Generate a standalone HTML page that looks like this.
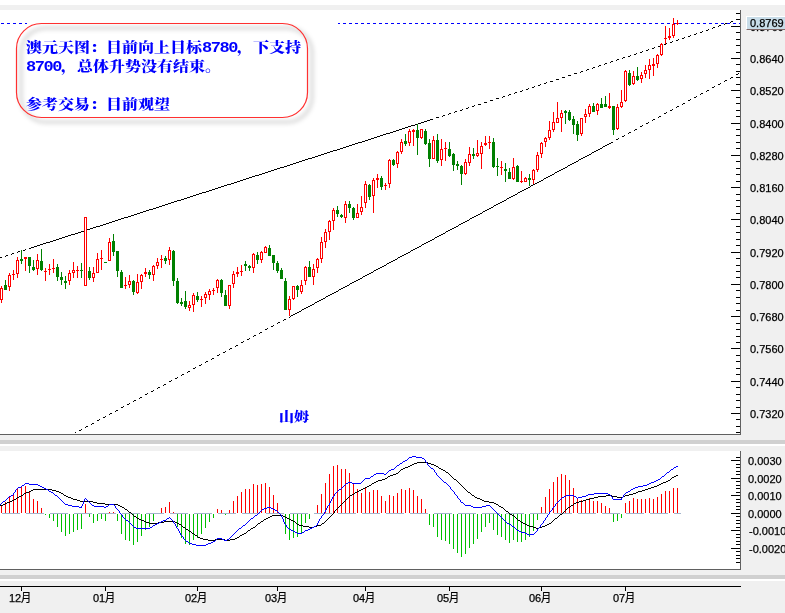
<!DOCTYPE html>
<html lang="zh"><head><meta charset="utf-8"><title>澳元天图</title>
<style>
html,body{margin:0;padding:0;background:#fff;}
body{width:785px;height:613px;overflow:hidden;position:relative;}
svg{position:absolute;left:0;top:0;display:block;}
div{position:absolute;white-space:nowrap;}
.ax{font-family:"Liberation Sans","Noto Sans CJK SC",sans-serif;font-size:11px;line-height:14px;height:14px;color:#000;}
.ax{-webkit-text-stroke:0.25px #000;}
.tm .cj{font-size:12px;display:inline-block;transform:scaleX(0.85);transform-origin:0 50%;}
.pl{left:746px;top:16px;width:39px;height:13px;background:#c8dce8;border-left:1px solid #fff;border-top:1px solid #fff;border-bottom:1px solid #806868;box-sizing:border-box;height:14px;}
.note{font-family:"Liberation Serif","Noto Serif CJK SC",serif;font-weight:900;font-size:16px;transform:scaleY(0.85);transform-origin:0 50%;line-height:19px;height:19px;color:#0000ff;}
.sm{font-size:15px !important;}
.note .dg{font-family:"Liberation Mono","Liberation Serif",monospace;font-size:17px;letter-spacing:-1.45px;font-weight:bold;}
</style></head><body>
<svg width="785" height="613" viewBox="0 0 785 613" shape-rendering="crispEdges"><rect x="0" y="0" width="785" height="613" fill="#ffffff"/>
<rect x="0" y="5" width="785" height="5" fill="#f0f0f0"/>
<rect x="741" y="10" width="44" height="603" fill="#f0f0f0"/>
<rect x="0" y="435" width="785" height="5" fill="#f0f0f0"/>
<rect x="0" y="440" width="785" height="4" fill="#d0d0d0"/>
<rect x="0" y="444" width="785" height="2" fill="#ffffff"/>
<rect x="0" y="446" width="785" height="5" fill="#f0f0f0"/>
<rect x="0" y="570" width="785" height="5" fill="#f0f0f0"/>
<rect x="0" y="575" width="785" height="4" fill="#d0d0d0"/>
<rect x="0" y="579" width="785" height="2" fill="#ffffff"/>
<rect x="0" y="581" width="785" height="32" fill="#f0f0f0"/>
<rect x="740" y="10" width="1" height="425" fill="#606060"/>
<rect x="0" y="434" width="741" height="1" fill="#606060"/>
<rect x="740" y="451" width="1" height="119" fill="#606060"/>
<rect x="0" y="569" width="741" height="1" fill="#606060"/>
<rect x="0" y="586" width="741" height="1" fill="#000"/>
<rect x="736" y="13" width="4" height="1" fill="#000"/>
<rect x="736" y="19" width="4" height="1" fill="#000"/>
<rect x="731" y="26" width="9" height="1" fill="#000"/>
<rect x="736" y="32" width="4" height="1" fill="#000"/>
<rect x="736" y="39" width="4" height="1" fill="#000"/>
<rect x="736" y="45" width="4" height="1" fill="#000"/>
<rect x="736" y="52" width="4" height="1" fill="#000"/>
<rect x="731" y="58" width="9" height="1" fill="#000"/>
<rect x="736" y="64" width="4" height="1" fill="#000"/>
<rect x="736" y="71" width="4" height="1" fill="#000"/>
<rect x="736" y="77" width="4" height="1" fill="#000"/>
<rect x="736" y="84" width="4" height="1" fill="#000"/>
<rect x="731" y="90" width="9" height="1" fill="#000"/>
<rect x="736" y="97" width="4" height="1" fill="#000"/>
<rect x="736" y="103" width="4" height="1" fill="#000"/>
<rect x="736" y="110" width="4" height="1" fill="#000"/>
<rect x="736" y="116" width="4" height="1" fill="#000"/>
<rect x="731" y="123" width="9" height="1" fill="#000"/>
<rect x="736" y="129" width="4" height="1" fill="#000"/>
<rect x="736" y="135" width="4" height="1" fill="#000"/>
<rect x="736" y="142" width="4" height="1" fill="#000"/>
<rect x="736" y="148" width="4" height="1" fill="#000"/>
<rect x="731" y="155" width="9" height="1" fill="#000"/>
<rect x="736" y="161" width="4" height="1" fill="#000"/>
<rect x="736" y="168" width="4" height="1" fill="#000"/>
<rect x="736" y="174" width="4" height="1" fill="#000"/>
<rect x="736" y="181" width="4" height="1" fill="#000"/>
<rect x="731" y="187" width="9" height="1" fill="#000"/>
<rect x="736" y="194" width="4" height="1" fill="#000"/>
<rect x="736" y="200" width="4" height="1" fill="#000"/>
<rect x="736" y="206" width="4" height="1" fill="#000"/>
<rect x="736" y="213" width="4" height="1" fill="#000"/>
<rect x="731" y="219" width="9" height="1" fill="#000"/>
<rect x="736" y="226" width="4" height="1" fill="#000"/>
<rect x="736" y="232" width="4" height="1" fill="#000"/>
<rect x="736" y="239" width="4" height="1" fill="#000"/>
<rect x="736" y="245" width="4" height="1" fill="#000"/>
<rect x="731" y="252" width="9" height="1" fill="#000"/>
<rect x="736" y="258" width="4" height="1" fill="#000"/>
<rect x="736" y="265" width="4" height="1" fill="#000"/>
<rect x="736" y="271" width="4" height="1" fill="#000"/>
<rect x="736" y="277" width="4" height="1" fill="#000"/>
<rect x="731" y="284" width="9" height="1" fill="#000"/>
<rect x="736" y="290" width="4" height="1" fill="#000"/>
<rect x="736" y="297" width="4" height="1" fill="#000"/>
<rect x="736" y="303" width="4" height="1" fill="#000"/>
<rect x="736" y="310" width="4" height="1" fill="#000"/>
<rect x="731" y="316" width="9" height="1" fill="#000"/>
<rect x="736" y="323" width="4" height="1" fill="#000"/>
<rect x="736" y="329" width="4" height="1" fill="#000"/>
<rect x="736" y="336" width="4" height="1" fill="#000"/>
<rect x="736" y="342" width="4" height="1" fill="#000"/>
<rect x="731" y="348" width="9" height="1" fill="#000"/>
<rect x="736" y="355" width="4" height="1" fill="#000"/>
<rect x="736" y="361" width="4" height="1" fill="#000"/>
<rect x="736" y="368" width="4" height="1" fill="#000"/>
<rect x="736" y="374" width="4" height="1" fill="#000"/>
<rect x="731" y="381" width="9" height="1" fill="#000"/>
<rect x="736" y="387" width="4" height="1" fill="#000"/>
<rect x="736" y="394" width="4" height="1" fill="#000"/>
<rect x="736" y="400" width="4" height="1" fill="#000"/>
<rect x="736" y="407" width="4" height="1" fill="#000"/>
<rect x="731" y="413" width="9" height="1" fill="#000"/>
<rect x="736" y="419" width="4" height="1" fill="#000"/>
<rect x="736" y="426" width="4" height="1" fill="#000"/>
<rect x="736" y="432" width="4" height="1" fill="#000"/>
<rect x="736" y="457" width="4" height="1" fill="#000"/>
<rect x="731" y="460" width="9" height="1" fill="#000"/>
<rect x="736" y="464" width="4" height="1" fill="#000"/>
<rect x="736" y="467" width="4" height="1" fill="#000"/>
<rect x="736" y="471" width="4" height="1" fill="#000"/>
<rect x="736" y="474" width="4" height="1" fill="#000"/>
<rect x="731" y="478" width="9" height="1" fill="#000"/>
<rect x="736" y="481" width="4" height="1" fill="#000"/>
<rect x="736" y="485" width="4" height="1" fill="#000"/>
<rect x="736" y="488" width="4" height="1" fill="#000"/>
<rect x="736" y="492" width="4" height="1" fill="#000"/>
<rect x="731" y="495" width="9" height="1" fill="#000"/>
<rect x="736" y="499" width="4" height="1" fill="#000"/>
<rect x="736" y="502" width="4" height="1" fill="#000"/>
<rect x="736" y="506" width="4" height="1" fill="#000"/>
<rect x="736" y="509" width="4" height="1" fill="#000"/>
<rect x="731" y="513" width="9" height="1" fill="#000"/>
<rect x="736" y="516" width="4" height="1" fill="#000"/>
<rect x="736" y="520" width="4" height="1" fill="#000"/>
<rect x="736" y="523" width="4" height="1" fill="#000"/>
<rect x="736" y="527" width="4" height="1" fill="#000"/>
<rect x="731" y="530" width="9" height="1" fill="#000"/>
<rect x="736" y="534" width="4" height="1" fill="#000"/>
<rect x="736" y="537" width="4" height="1" fill="#000"/>
<rect x="736" y="541" width="4" height="1" fill="#000"/>
<rect x="736" y="544" width="4" height="1" fill="#000"/>
<rect x="731" y="548" width="9" height="1" fill="#000"/>
<rect x="736" y="551" width="4" height="1" fill="#000"/>
<rect x="736" y="555" width="4" height="1" fill="#000"/>
<rect x="736" y="558" width="4" height="1" fill="#000"/>
<rect x="736" y="562" width="4" height="1" fill="#000"/>
<rect x="21" y="586" width="1" height="5" fill="#000"/>
<rect x="105" y="586" width="1" height="5" fill="#000"/>
<rect x="197" y="586" width="1" height="5" fill="#000"/>
<rect x="277" y="586" width="1" height="5" fill="#000"/>
<rect x="365" y="586" width="1" height="5" fill="#000"/>
<rect x="449" y="586" width="1" height="5" fill="#000"/>
<rect x="541" y="586" width="1" height="5" fill="#000"/>
<rect x="625" y="586" width="1" height="5" fill="#000"/>
<rect x="1" y="23" width="3" height="1" fill="#0000ff"/>
<rect x="7" y="23" width="3" height="1" fill="#0000ff"/>
<rect x="13" y="23" width="3" height="1" fill="#0000ff"/>
<rect x="19" y="23" width="3" height="1" fill="#0000ff"/>
<rect x="25" y="23" width="2" height="1" fill="#0000ff"/>
<rect x="338" y="23" width="2" height="1" fill="#0000ff"/>
<rect x="343" y="23" width="3" height="1" fill="#0000ff"/>
<rect x="349" y="23" width="3" height="1" fill="#0000ff"/>
<rect x="355" y="23" width="3" height="1" fill="#0000ff"/>
<rect x="361" y="23" width="3" height="1" fill="#0000ff"/>
<rect x="367" y="23" width="3" height="1" fill="#0000ff"/>
<rect x="373" y="23" width="3" height="1" fill="#0000ff"/>
<rect x="379" y="23" width="3" height="1" fill="#0000ff"/>
<rect x="385" y="23" width="3" height="1" fill="#0000ff"/>
<rect x="391" y="23" width="3" height="1" fill="#0000ff"/>
<rect x="397" y="23" width="3" height="1" fill="#0000ff"/>
<rect x="403" y="23" width="3" height="1" fill="#0000ff"/>
<rect x="409" y="23" width="3" height="1" fill="#0000ff"/>
<rect x="415" y="23" width="3" height="1" fill="#0000ff"/>
<rect x="421" y="23" width="3" height="1" fill="#0000ff"/>
<rect x="427" y="23" width="3" height="1" fill="#0000ff"/>
<rect x="433" y="23" width="3" height="1" fill="#0000ff"/>
<rect x="439" y="23" width="3" height="1" fill="#0000ff"/>
<rect x="445" y="23" width="3" height="1" fill="#0000ff"/>
<rect x="451" y="23" width="3" height="1" fill="#0000ff"/>
<rect x="457" y="23" width="3" height="1" fill="#0000ff"/>
<rect x="463" y="23" width="3" height="1" fill="#0000ff"/>
<rect x="469" y="23" width="3" height="1" fill="#0000ff"/>
<rect x="475" y="23" width="3" height="1" fill="#0000ff"/>
<rect x="481" y="23" width="3" height="1" fill="#0000ff"/>
<rect x="487" y="23" width="3" height="1" fill="#0000ff"/>
<rect x="493" y="23" width="3" height="1" fill="#0000ff"/>
<rect x="499" y="23" width="3" height="1" fill="#0000ff"/>
<rect x="505" y="23" width="3" height="1" fill="#0000ff"/>
<rect x="511" y="23" width="3" height="1" fill="#0000ff"/>
<rect x="517" y="23" width="3" height="1" fill="#0000ff"/>
<rect x="523" y="23" width="3" height="1" fill="#0000ff"/>
<rect x="529" y="23" width="3" height="1" fill="#0000ff"/>
<rect x="535" y="23" width="3" height="1" fill="#0000ff"/>
<rect x="541" y="23" width="3" height="1" fill="#0000ff"/>
<rect x="547" y="23" width="3" height="1" fill="#0000ff"/>
<rect x="553" y="23" width="3" height="1" fill="#0000ff"/>
<rect x="559" y="23" width="3" height="1" fill="#0000ff"/>
<rect x="565" y="23" width="3" height="1" fill="#0000ff"/>
<rect x="571" y="23" width="3" height="1" fill="#0000ff"/>
<rect x="577" y="23" width="3" height="1" fill="#0000ff"/>
<rect x="583" y="23" width="3" height="1" fill="#0000ff"/>
<rect x="589" y="23" width="3" height="1" fill="#0000ff"/>
<rect x="595" y="23" width="3" height="1" fill="#0000ff"/>
<rect x="601" y="23" width="3" height="1" fill="#0000ff"/>
<rect x="607" y="23" width="3" height="1" fill="#0000ff"/>
<rect x="613" y="23" width="3" height="1" fill="#0000ff"/>
<rect x="619" y="23" width="3" height="1" fill="#0000ff"/>
<rect x="625" y="23" width="3" height="1" fill="#0000ff"/>
<rect x="631" y="23" width="3" height="1" fill="#0000ff"/>
<rect x="637" y="23" width="3" height="1" fill="#0000ff"/>
<rect x="643" y="23" width="3" height="1" fill="#0000ff"/>
<rect x="649" y="23" width="3" height="1" fill="#0000ff"/>
<rect x="655" y="23" width="3" height="1" fill="#0000ff"/>
<rect x="661" y="23" width="3" height="1" fill="#0000ff"/>
<rect x="667" y="23" width="3" height="1" fill="#0000ff"/>
<rect x="673" y="23" width="3" height="1" fill="#0000ff"/>
<rect x="679" y="23" width="3" height="1" fill="#0000ff"/>
<rect x="685" y="23" width="3" height="1" fill="#0000ff"/>
<rect x="691" y="23" width="3" height="1" fill="#0000ff"/>
<rect x="697" y="23" width="3" height="1" fill="#0000ff"/>
<rect x="703" y="23" width="3" height="1" fill="#0000ff"/>
<rect x="709" y="23" width="3" height="1" fill="#0000ff"/>
<rect x="715" y="23" width="3" height="1" fill="#0000ff"/>
<rect x="721" y="23" width="3" height="1" fill="#0000ff"/>
<rect x="727" y="23" width="3" height="1" fill="#0000ff"/>
<rect x="733" y="23" width="3" height="1" fill="#0000ff"/>
<rect x="739" y="23" width="1" height="1" fill="#0000ff"/>
<rect x="29" y="248" width="2" height="1" fill="#000"/>
<rect x="25" y="249" width="1" height="1" fill="#000"/>
<rect x="23" y="250" width="2" height="1" fill="#000"/>
<rect x="18" y="251" width="2" height="1" fill="#000"/>
<rect x="17" y="252" width="1" height="1" fill="#000"/>
<rect x="12" y="253" width="2" height="1" fill="#000"/>
<rect x="11" y="254" width="1" height="1" fill="#000"/>
<rect x="6" y="255" width="2" height="1" fill="#000"/>
<rect x="5" y="256" width="1" height="1" fill="#000"/>
<rect x="0" y="257" width="2" height="1" fill="#000"/>
<rect x="430" y="119" width="3" height="1" fill="#000"/>
<rect x="427" y="120" width="3" height="1" fill="#000"/>
<rect x="424" y="121" width="3" height="1" fill="#000"/>
<rect x="421" y="122" width="3" height="1" fill="#000"/>
<rect x="418" y="123" width="3" height="1" fill="#000"/>
<rect x="415" y="124" width="3" height="1" fill="#000"/>
<rect x="411" y="125" width="4" height="1" fill="#000"/>
<rect x="408" y="126" width="3" height="1" fill="#000"/>
<rect x="405" y="127" width="3" height="1" fill="#000"/>
<rect x="402" y="128" width="3" height="1" fill="#000"/>
<rect x="399" y="129" width="3" height="1" fill="#000"/>
<rect x="396" y="130" width="3" height="1" fill="#000"/>
<rect x="393" y="131" width="3" height="1" fill="#000"/>
<rect x="390" y="132" width="3" height="1" fill="#000"/>
<rect x="386" y="133" width="4" height="1" fill="#000"/>
<rect x="383" y="134" width="3" height="1" fill="#000"/>
<rect x="380" y="135" width="3" height="1" fill="#000"/>
<rect x="377" y="136" width="3" height="1" fill="#000"/>
<rect x="374" y="137" width="3" height="1" fill="#000"/>
<rect x="371" y="138" width="3" height="1" fill="#000"/>
<rect x="368" y="139" width="3" height="1" fill="#000"/>
<rect x="365" y="140" width="3" height="1" fill="#000"/>
<rect x="362" y="141" width="3" height="1" fill="#000"/>
<rect x="358" y="142" width="4" height="1" fill="#000"/>
<rect x="355" y="143" width="3" height="1" fill="#000"/>
<rect x="352" y="144" width="3" height="1" fill="#000"/>
<rect x="349" y="145" width="3" height="1" fill="#000"/>
<rect x="346" y="146" width="3" height="1" fill="#000"/>
<rect x="343" y="147" width="3" height="1" fill="#000"/>
<rect x="340" y="148" width="3" height="1" fill="#000"/>
<rect x="337" y="149" width="3" height="1" fill="#000"/>
<rect x="333" y="150" width="4" height="1" fill="#000"/>
<rect x="330" y="151" width="3" height="1" fill="#000"/>
<rect x="327" y="152" width="3" height="1" fill="#000"/>
<rect x="324" y="153" width="3" height="1" fill="#000"/>
<rect x="321" y="154" width="3" height="1" fill="#000"/>
<rect x="318" y="155" width="3" height="1" fill="#000"/>
<rect x="315" y="156" width="3" height="1" fill="#000"/>
<rect x="312" y="157" width="3" height="1" fill="#000"/>
<rect x="308" y="158" width="4" height="1" fill="#000"/>
<rect x="305" y="159" width="3" height="1" fill="#000"/>
<rect x="302" y="160" width="3" height="1" fill="#000"/>
<rect x="299" y="161" width="3" height="1" fill="#000"/>
<rect x="296" y="162" width="3" height="1" fill="#000"/>
<rect x="293" y="163" width="3" height="1" fill="#000"/>
<rect x="290" y="164" width="3" height="1" fill="#000"/>
<rect x="287" y="165" width="3" height="1" fill="#000"/>
<rect x="284" y="166" width="3" height="1" fill="#000"/>
<rect x="280" y="167" width="4" height="1" fill="#000"/>
<rect x="277" y="168" width="3" height="1" fill="#000"/>
<rect x="274" y="169" width="3" height="1" fill="#000"/>
<rect x="271" y="170" width="3" height="1" fill="#000"/>
<rect x="268" y="171" width="3" height="1" fill="#000"/>
<rect x="265" y="172" width="3" height="1" fill="#000"/>
<rect x="262" y="173" width="3" height="1" fill="#000"/>
<rect x="259" y="174" width="3" height="1" fill="#000"/>
<rect x="255" y="175" width="4" height="1" fill="#000"/>
<rect x="252" y="176" width="3" height="1" fill="#000"/>
<rect x="249" y="177" width="3" height="1" fill="#000"/>
<rect x="246" y="178" width="3" height="1" fill="#000"/>
<rect x="243" y="179" width="3" height="1" fill="#000"/>
<rect x="240" y="180" width="3" height="1" fill="#000"/>
<rect x="237" y="181" width="3" height="1" fill="#000"/>
<rect x="234" y="182" width="3" height="1" fill="#000"/>
<rect x="231" y="183" width="3" height="1" fill="#000"/>
<rect x="227" y="184" width="4" height="1" fill="#000"/>
<rect x="224" y="185" width="3" height="1" fill="#000"/>
<rect x="221" y="186" width="3" height="1" fill="#000"/>
<rect x="218" y="187" width="3" height="1" fill="#000"/>
<rect x="215" y="188" width="3" height="1" fill="#000"/>
<rect x="212" y="189" width="3" height="1" fill="#000"/>
<rect x="209" y="190" width="3" height="1" fill="#000"/>
<rect x="206" y="191" width="3" height="1" fill="#000"/>
<rect x="202" y="192" width="4" height="1" fill="#000"/>
<rect x="199" y="193" width="3" height="1" fill="#000"/>
<rect x="196" y="194" width="3" height="1" fill="#000"/>
<rect x="193" y="195" width="3" height="1" fill="#000"/>
<rect x="190" y="196" width="3" height="1" fill="#000"/>
<rect x="187" y="197" width="3" height="1" fill="#000"/>
<rect x="184" y="198" width="3" height="1" fill="#000"/>
<rect x="181" y="199" width="3" height="1" fill="#000"/>
<rect x="177" y="200" width="4" height="1" fill="#000"/>
<rect x="174" y="201" width="3" height="1" fill="#000"/>
<rect x="171" y="202" width="3" height="1" fill="#000"/>
<rect x="168" y="203" width="3" height="1" fill="#000"/>
<rect x="165" y="204" width="3" height="1" fill="#000"/>
<rect x="162" y="205" width="3" height="1" fill="#000"/>
<rect x="159" y="206" width="3" height="1" fill="#000"/>
<rect x="156" y="207" width="3" height="1" fill="#000"/>
<rect x="153" y="208" width="3" height="1" fill="#000"/>
<rect x="149" y="209" width="4" height="1" fill="#000"/>
<rect x="146" y="210" width="3" height="1" fill="#000"/>
<rect x="143" y="211" width="3" height="1" fill="#000"/>
<rect x="140" y="212" width="3" height="1" fill="#000"/>
<rect x="137" y="213" width="3" height="1" fill="#000"/>
<rect x="134" y="214" width="3" height="1" fill="#000"/>
<rect x="131" y="215" width="3" height="1" fill="#000"/>
<rect x="128" y="216" width="3" height="1" fill="#000"/>
<rect x="124" y="217" width="4" height="1" fill="#000"/>
<rect x="121" y="218" width="3" height="1" fill="#000"/>
<rect x="118" y="219" width="3" height="1" fill="#000"/>
<rect x="115" y="220" width="3" height="1" fill="#000"/>
<rect x="112" y="221" width="3" height="1" fill="#000"/>
<rect x="109" y="222" width="3" height="1" fill="#000"/>
<rect x="106" y="223" width="3" height="1" fill="#000"/>
<rect x="103" y="224" width="3" height="1" fill="#000"/>
<rect x="100" y="225" width="3" height="1" fill="#000"/>
<rect x="96" y="226" width="4" height="1" fill="#000"/>
<rect x="93" y="227" width="3" height="1" fill="#000"/>
<rect x="90" y="228" width="3" height="1" fill="#000"/>
<rect x="87" y="229" width="3" height="1" fill="#000"/>
<rect x="84" y="230" width="3" height="1" fill="#000"/>
<rect x="81" y="231" width="3" height="1" fill="#000"/>
<rect x="78" y="232" width="3" height="1" fill="#000"/>
<rect x="75" y="233" width="3" height="1" fill="#000"/>
<rect x="71" y="234" width="4" height="1" fill="#000"/>
<rect x="68" y="235" width="3" height="1" fill="#000"/>
<rect x="65" y="236" width="3" height="1" fill="#000"/>
<rect x="62" y="237" width="3" height="1" fill="#000"/>
<rect x="59" y="238" width="3" height="1" fill="#000"/>
<rect x="56" y="239" width="3" height="1" fill="#000"/>
<rect x="53" y="240" width="3" height="1" fill="#000"/>
<rect x="50" y="241" width="3" height="1" fill="#000"/>
<rect x="46" y="242" width="4" height="1" fill="#000"/>
<rect x="43" y="243" width="3" height="1" fill="#000"/>
<rect x="40" y="244" width="3" height="1" fill="#000"/>
<rect x="37" y="245" width="3" height="1" fill="#000"/>
<rect x="34" y="246" width="3" height="1" fill="#000"/>
<rect x="31" y="247" width="3" height="1" fill="#000"/>
<rect x="736" y="19" width="3" height="1" fill="#000"/>
<rect x="731" y="21" width="2" height="1" fill="#000"/>
<rect x="730" y="22" width="1" height="1" fill="#000"/>
<rect x="725" y="23" width="2" height="1" fill="#000"/>
<rect x="724" y="24" width="1" height="1" fill="#000"/>
<rect x="719" y="25" width="2" height="1" fill="#000"/>
<rect x="718" y="26" width="1" height="1" fill="#000"/>
<rect x="713" y="27" width="2" height="1" fill="#000"/>
<rect x="712" y="28" width="1" height="1" fill="#000"/>
<rect x="708" y="29" width="1" height="1" fill="#000"/>
<rect x="706" y="30" width="2" height="1" fill="#000"/>
<rect x="702" y="31" width="1" height="1" fill="#000"/>
<rect x="700" y="32" width="2" height="1" fill="#000"/>
<rect x="696" y="33" width="1" height="1" fill="#000"/>
<rect x="694" y="34" width="2" height="1" fill="#000"/>
<rect x="690" y="35" width="1" height="1" fill="#000"/>
<rect x="688" y="36" width="2" height="1" fill="#000"/>
<rect x="684" y="37" width="1" height="1" fill="#000"/>
<rect x="682" y="38" width="2" height="1" fill="#000"/>
<rect x="678" y="39" width="1" height="1" fill="#000"/>
<rect x="676" y="40" width="2" height="1" fill="#000"/>
<rect x="672" y="41" width="1" height="1" fill="#000"/>
<rect x="670" y="42" width="2" height="1" fill="#000"/>
<rect x="666" y="43" width="1" height="1" fill="#000"/>
<rect x="664" y="44" width="2" height="1" fill="#000"/>
<rect x="660" y="45" width="1" height="1" fill="#000"/>
<rect x="658" y="46" width="2" height="1" fill="#000"/>
<rect x="654" y="47" width="1" height="1" fill="#000"/>
<rect x="652" y="48" width="2" height="1" fill="#000"/>
<rect x="648" y="49" width="1" height="1" fill="#000"/>
<rect x="646" y="50" width="2" height="1" fill="#000"/>
<rect x="642" y="51" width="1" height="1" fill="#000"/>
<rect x="640" y="52" width="2" height="1" fill="#000"/>
<rect x="636" y="53" width="1" height="1" fill="#000"/>
<rect x="634" y="54" width="2" height="1" fill="#000"/>
<rect x="630" y="55" width="1" height="1" fill="#000"/>
<rect x="628" y="56" width="2" height="1" fill="#000"/>
<rect x="623" y="57" width="2" height="1" fill="#000"/>
<rect x="622" y="58" width="1" height="1" fill="#000"/>
<rect x="617" y="59" width="2" height="1" fill="#000"/>
<rect x="616" y="60" width="1" height="1" fill="#000"/>
<rect x="611" y="61" width="2" height="1" fill="#000"/>
<rect x="610" y="62" width="1" height="1" fill="#000"/>
<rect x="605" y="63" width="2" height="1" fill="#000"/>
<rect x="604" y="64" width="1" height="1" fill="#000"/>
<rect x="599" y="65" width="2" height="1" fill="#000"/>
<rect x="598" y="66" width="1" height="1" fill="#000"/>
<rect x="593" y="67" width="2" height="1" fill="#000"/>
<rect x="592" y="68" width="1" height="1" fill="#000"/>
<rect x="587" y="69" width="2" height="1" fill="#000"/>
<rect x="586" y="70" width="1" height="1" fill="#000"/>
<rect x="581" y="71" width="2" height="1" fill="#000"/>
<rect x="580" y="72" width="1" height="1" fill="#000"/>
<rect x="574" y="73" width="3" height="1" fill="#000"/>
<rect x="568" y="75" width="3" height="1" fill="#000"/>
<rect x="562" y="77" width="3" height="1" fill="#000"/>
<rect x="556" y="79" width="3" height="1" fill="#000"/>
<rect x="550" y="81" width="3" height="1" fill="#000"/>
<rect x="546" y="82" width="1" height="1" fill="#000"/>
<rect x="544" y="83" width="2" height="1" fill="#000"/>
<rect x="540" y="84" width="1" height="1" fill="#000"/>
<rect x="538" y="85" width="2" height="1" fill="#000"/>
<rect x="534" y="86" width="1" height="1" fill="#000"/>
<rect x="532" y="87" width="2" height="1" fill="#000"/>
<rect x="528" y="88" width="1" height="1" fill="#000"/>
<rect x="526" y="89" width="2" height="1" fill="#000"/>
<rect x="522" y="90" width="1" height="1" fill="#000"/>
<rect x="520" y="91" width="2" height="1" fill="#000"/>
<rect x="515" y="92" width="2" height="1" fill="#000"/>
<rect x="514" y="93" width="1" height="1" fill="#000"/>
<rect x="509" y="94" width="2" height="1" fill="#000"/>
<rect x="508" y="95" width="1" height="1" fill="#000"/>
<rect x="503" y="96" width="2" height="1" fill="#000"/>
<rect x="502" y="97" width="1" height="1" fill="#000"/>
<rect x="496" y="98" width="3" height="1" fill="#000"/>
<rect x="490" y="100" width="3" height="1" fill="#000"/>
<rect x="484" y="102" width="3" height="1" fill="#000"/>
<rect x="478" y="104" width="3" height="1" fill="#000"/>
<rect x="474" y="105" width="1" height="1" fill="#000"/>
<rect x="472" y="106" width="2" height="1" fill="#000"/>
<rect x="468" y="107" width="1" height="1" fill="#000"/>
<rect x="466" y="108" width="2" height="1" fill="#000"/>
<rect x="462" y="109" width="1" height="1" fill="#000"/>
<rect x="460" y="110" width="2" height="1" fill="#000"/>
<rect x="455" y="111" width="2" height="1" fill="#000"/>
<rect x="454" y="112" width="1" height="1" fill="#000"/>
<rect x="449" y="113" width="2" height="1" fill="#000"/>
<rect x="448" y="114" width="1" height="1" fill="#000"/>
<rect x="443" y="115" width="2" height="1" fill="#000"/>
<rect x="442" y="116" width="1" height="1" fill="#000"/>
<rect x="436" y="117" width="3" height="1" fill="#000"/>
<rect x="284" y="319" width="2" height="1" fill="#000"/>
<rect x="283" y="320" width="1" height="1" fill="#000"/>
<rect x="278" y="322" width="2" height="1" fill="#000"/>
<rect x="277" y="323" width="1" height="1" fill="#000"/>
<rect x="273" y="325" width="1" height="1" fill="#000"/>
<rect x="271" y="326" width="2" height="1" fill="#000"/>
<rect x="267" y="328" width="1" height="1" fill="#000"/>
<rect x="265" y="329" width="2" height="1" fill="#000"/>
<rect x="260" y="332" width="2" height="1" fill="#000"/>
<rect x="259" y="333" width="1" height="1" fill="#000"/>
<rect x="254" y="335" width="2" height="1" fill="#000"/>
<rect x="253" y="336" width="1" height="1" fill="#000"/>
<rect x="249" y="338" width="1" height="1" fill="#000"/>
<rect x="247" y="339" width="2" height="1" fill="#000"/>
<rect x="243" y="341" width="1" height="1" fill="#000"/>
<rect x="241" y="342" width="2" height="1" fill="#000"/>
<rect x="236" y="345" width="2" height="1" fill="#000"/>
<rect x="235" y="346" width="1" height="1" fill="#000"/>
<rect x="230" y="348" width="2" height="1" fill="#000"/>
<rect x="229" y="349" width="1" height="1" fill="#000"/>
<rect x="225" y="351" width="1" height="1" fill="#000"/>
<rect x="223" y="352" width="2" height="1" fill="#000"/>
<rect x="219" y="354" width="1" height="1" fill="#000"/>
<rect x="217" y="355" width="2" height="1" fill="#000"/>
<rect x="212" y="358" width="2" height="1" fill="#000"/>
<rect x="211" y="359" width="1" height="1" fill="#000"/>
<rect x="206" y="361" width="2" height="1" fill="#000"/>
<rect x="205" y="362" width="1" height="1" fill="#000"/>
<rect x="201" y="364" width="1" height="1" fill="#000"/>
<rect x="199" y="365" width="2" height="1" fill="#000"/>
<rect x="195" y="367" width="1" height="1" fill="#000"/>
<rect x="193" y="368" width="2" height="1" fill="#000"/>
<rect x="188" y="371" width="2" height="1" fill="#000"/>
<rect x="187" y="372" width="1" height="1" fill="#000"/>
<rect x="182" y="374" width="2" height="1" fill="#000"/>
<rect x="181" y="375" width="1" height="1" fill="#000"/>
<rect x="177" y="377" width="1" height="1" fill="#000"/>
<rect x="175" y="378" width="2" height="1" fill="#000"/>
<rect x="171" y="380" width="1" height="1" fill="#000"/>
<rect x="169" y="381" width="2" height="1" fill="#000"/>
<rect x="164" y="384" width="2" height="1" fill="#000"/>
<rect x="163" y="385" width="1" height="1" fill="#000"/>
<rect x="158" y="387" width="2" height="1" fill="#000"/>
<rect x="157" y="388" width="1" height="1" fill="#000"/>
<rect x="153" y="390" width="1" height="1" fill="#000"/>
<rect x="151" y="391" width="2" height="1" fill="#000"/>
<rect x="147" y="393" width="1" height="1" fill="#000"/>
<rect x="145" y="394" width="2" height="1" fill="#000"/>
<rect x="140" y="397" width="2" height="1" fill="#000"/>
<rect x="139" y="398" width="1" height="1" fill="#000"/>
<rect x="134" y="400" width="2" height="1" fill="#000"/>
<rect x="133" y="401" width="1" height="1" fill="#000"/>
<rect x="129" y="403" width="1" height="1" fill="#000"/>
<rect x="127" y="404" width="2" height="1" fill="#000"/>
<rect x="123" y="406" width="1" height="1" fill="#000"/>
<rect x="121" y="407" width="2" height="1" fill="#000"/>
<rect x="116" y="410" width="2" height="1" fill="#000"/>
<rect x="115" y="411" width="1" height="1" fill="#000"/>
<rect x="110" y="413" width="2" height="1" fill="#000"/>
<rect x="109" y="414" width="1" height="1" fill="#000"/>
<rect x="105" y="416" width="1" height="1" fill="#000"/>
<rect x="103" y="417" width="2" height="1" fill="#000"/>
<rect x="99" y="419" width="1" height="1" fill="#000"/>
<rect x="97" y="420" width="2" height="1" fill="#000"/>
<rect x="92" y="423" width="2" height="1" fill="#000"/>
<rect x="91" y="424" width="1" height="1" fill="#000"/>
<rect x="86" y="426" width="2" height="1" fill="#000"/>
<rect x="85" y="427" width="1" height="1" fill="#000"/>
<rect x="81" y="429" width="1" height="1" fill="#000"/>
<rect x="79" y="430" width="2" height="1" fill="#000"/>
<rect x="75" y="432" width="1" height="1" fill="#000"/>
<rect x="611" y="142" width="2" height="1" fill="#000"/>
<rect x="609" y="143" width="2" height="1" fill="#000"/>
<rect x="607" y="144" width="2" height="1" fill="#000"/>
<rect x="605" y="145" width="2" height="1" fill="#000"/>
<rect x="603" y="146" width="2" height="1" fill="#000"/>
<rect x="602" y="147" width="1" height="1" fill="#000"/>
<rect x="600" y="148" width="2" height="1" fill="#000"/>
<rect x="598" y="149" width="2" height="1" fill="#000"/>
<rect x="596" y="150" width="2" height="1" fill="#000"/>
<rect x="594" y="151" width="2" height="1" fill="#000"/>
<rect x="592" y="152" width="2" height="1" fill="#000"/>
<rect x="591" y="153" width="1" height="1" fill="#000"/>
<rect x="589" y="154" width="2" height="1" fill="#000"/>
<rect x="587" y="155" width="2" height="1" fill="#000"/>
<rect x="585" y="156" width="2" height="1" fill="#000"/>
<rect x="583" y="157" width="2" height="1" fill="#000"/>
<rect x="581" y="158" width="2" height="1" fill="#000"/>
<rect x="579" y="159" width="2" height="1" fill="#000"/>
<rect x="578" y="160" width="1" height="1" fill="#000"/>
<rect x="576" y="161" width="2" height="1" fill="#000"/>
<rect x="574" y="162" width="2" height="1" fill="#000"/>
<rect x="572" y="163" width="2" height="1" fill="#000"/>
<rect x="570" y="164" width="2" height="1" fill="#000"/>
<rect x="568" y="165" width="2" height="1" fill="#000"/>
<rect x="567" y="166" width="1" height="1" fill="#000"/>
<rect x="565" y="167" width="2" height="1" fill="#000"/>
<rect x="563" y="168" width="2" height="1" fill="#000"/>
<rect x="561" y="169" width="2" height="1" fill="#000"/>
<rect x="559" y="170" width="2" height="1" fill="#000"/>
<rect x="557" y="171" width="2" height="1" fill="#000"/>
<rect x="555" y="172" width="2" height="1" fill="#000"/>
<rect x="554" y="173" width="1" height="1" fill="#000"/>
<rect x="552" y="174" width="2" height="1" fill="#000"/>
<rect x="550" y="175" width="2" height="1" fill="#000"/>
<rect x="548" y="176" width="2" height="1" fill="#000"/>
<rect x="546" y="177" width="2" height="1" fill="#000"/>
<rect x="544" y="178" width="2" height="1" fill="#000"/>
<rect x="543" y="179" width="1" height="1" fill="#000"/>
<rect x="541" y="180" width="2" height="1" fill="#000"/>
<rect x="539" y="181" width="2" height="1" fill="#000"/>
<rect x="537" y="182" width="2" height="1" fill="#000"/>
<rect x="535" y="183" width="2" height="1" fill="#000"/>
<rect x="533" y="184" width="2" height="1" fill="#000"/>
<rect x="531" y="185" width="2" height="1" fill="#000"/>
<rect x="530" y="186" width="1" height="1" fill="#000"/>
<rect x="528" y="187" width="2" height="1" fill="#000"/>
<rect x="526" y="188" width="2" height="1" fill="#000"/>
<rect x="524" y="189" width="2" height="1" fill="#000"/>
<rect x="522" y="190" width="2" height="1" fill="#000"/>
<rect x="520" y="191" width="2" height="1" fill="#000"/>
<rect x="518" y="192" width="2" height="1" fill="#000"/>
<rect x="517" y="193" width="1" height="1" fill="#000"/>
<rect x="515" y="194" width="2" height="1" fill="#000"/>
<rect x="513" y="195" width="2" height="1" fill="#000"/>
<rect x="511" y="196" width="2" height="1" fill="#000"/>
<rect x="509" y="197" width="2" height="1" fill="#000"/>
<rect x="507" y="198" width="2" height="1" fill="#000"/>
<rect x="506" y="199" width="1" height="1" fill="#000"/>
<rect x="504" y="200" width="2" height="1" fill="#000"/>
<rect x="502" y="201" width="2" height="1" fill="#000"/>
<rect x="500" y="202" width="2" height="1" fill="#000"/>
<rect x="498" y="203" width="2" height="1" fill="#000"/>
<rect x="496" y="204" width="2" height="1" fill="#000"/>
<rect x="494" y="205" width="2" height="1" fill="#000"/>
<rect x="493" y="206" width="1" height="1" fill="#000"/>
<rect x="491" y="207" width="2" height="1" fill="#000"/>
<rect x="489" y="208" width="2" height="1" fill="#000"/>
<rect x="487" y="209" width="2" height="1" fill="#000"/>
<rect x="485" y="210" width="2" height="1" fill="#000"/>
<rect x="483" y="211" width="2" height="1" fill="#000"/>
<rect x="482" y="212" width="1" height="1" fill="#000"/>
<rect x="480" y="213" width="2" height="1" fill="#000"/>
<rect x="478" y="214" width="2" height="1" fill="#000"/>
<rect x="476" y="215" width="2" height="1" fill="#000"/>
<rect x="474" y="216" width="2" height="1" fill="#000"/>
<rect x="472" y="217" width="2" height="1" fill="#000"/>
<rect x="470" y="218" width="2" height="1" fill="#000"/>
<rect x="469" y="219" width="1" height="1" fill="#000"/>
<rect x="467" y="220" width="2" height="1" fill="#000"/>
<rect x="465" y="221" width="2" height="1" fill="#000"/>
<rect x="463" y="222" width="2" height="1" fill="#000"/>
<rect x="461" y="223" width="2" height="1" fill="#000"/>
<rect x="459" y="224" width="2" height="1" fill="#000"/>
<rect x="458" y="225" width="1" height="1" fill="#000"/>
<rect x="456" y="226" width="2" height="1" fill="#000"/>
<rect x="454" y="227" width="2" height="1" fill="#000"/>
<rect x="452" y="228" width="2" height="1" fill="#000"/>
<rect x="450" y="229" width="2" height="1" fill="#000"/>
<rect x="448" y="230" width="2" height="1" fill="#000"/>
<rect x="446" y="231" width="2" height="1" fill="#000"/>
<rect x="445" y="232" width="1" height="1" fill="#000"/>
<rect x="443" y="233" width="2" height="1" fill="#000"/>
<rect x="441" y="234" width="2" height="1" fill="#000"/>
<rect x="439" y="235" width="2" height="1" fill="#000"/>
<rect x="437" y="236" width="2" height="1" fill="#000"/>
<rect x="435" y="237" width="2" height="1" fill="#000"/>
<rect x="434" y="238" width="1" height="1" fill="#000"/>
<rect x="432" y="239" width="2" height="1" fill="#000"/>
<rect x="430" y="240" width="2" height="1" fill="#000"/>
<rect x="428" y="241" width="2" height="1" fill="#000"/>
<rect x="426" y="242" width="2" height="1" fill="#000"/>
<rect x="424" y="243" width="2" height="1" fill="#000"/>
<rect x="422" y="244" width="2" height="1" fill="#000"/>
<rect x="421" y="245" width="1" height="1" fill="#000"/>
<rect x="419" y="246" width="2" height="1" fill="#000"/>
<rect x="417" y="247" width="2" height="1" fill="#000"/>
<rect x="415" y="248" width="2" height="1" fill="#000"/>
<rect x="413" y="249" width="2" height="1" fill="#000"/>
<rect x="411" y="250" width="2" height="1" fill="#000"/>
<rect x="410" y="251" width="1" height="1" fill="#000"/>
<rect x="408" y="252" width="2" height="1" fill="#000"/>
<rect x="406" y="253" width="2" height="1" fill="#000"/>
<rect x="404" y="254" width="2" height="1" fill="#000"/>
<rect x="402" y="255" width="2" height="1" fill="#000"/>
<rect x="400" y="256" width="2" height="1" fill="#000"/>
<rect x="398" y="257" width="2" height="1" fill="#000"/>
<rect x="397" y="258" width="1" height="1" fill="#000"/>
<rect x="395" y="259" width="2" height="1" fill="#000"/>
<rect x="393" y="260" width="2" height="1" fill="#000"/>
<rect x="391" y="261" width="2" height="1" fill="#000"/>
<rect x="389" y="262" width="2" height="1" fill="#000"/>
<rect x="387" y="263" width="2" height="1" fill="#000"/>
<rect x="386" y="264" width="1" height="1" fill="#000"/>
<rect x="384" y="265" width="2" height="1" fill="#000"/>
<rect x="382" y="266" width="2" height="1" fill="#000"/>
<rect x="380" y="267" width="2" height="1" fill="#000"/>
<rect x="378" y="268" width="2" height="1" fill="#000"/>
<rect x="376" y="269" width="2" height="1" fill="#000"/>
<rect x="374" y="270" width="2" height="1" fill="#000"/>
<rect x="373" y="271" width="1" height="1" fill="#000"/>
<rect x="371" y="272" width="2" height="1" fill="#000"/>
<rect x="369" y="273" width="2" height="1" fill="#000"/>
<rect x="367" y="274" width="2" height="1" fill="#000"/>
<rect x="365" y="275" width="2" height="1" fill="#000"/>
<rect x="363" y="276" width="2" height="1" fill="#000"/>
<rect x="362" y="277" width="1" height="1" fill="#000"/>
<rect x="360" y="278" width="2" height="1" fill="#000"/>
<rect x="358" y="279" width="2" height="1" fill="#000"/>
<rect x="356" y="280" width="2" height="1" fill="#000"/>
<rect x="354" y="281" width="2" height="1" fill="#000"/>
<rect x="352" y="282" width="2" height="1" fill="#000"/>
<rect x="350" y="283" width="2" height="1" fill="#000"/>
<rect x="349" y="284" width="1" height="1" fill="#000"/>
<rect x="347" y="285" width="2" height="1" fill="#000"/>
<rect x="345" y="286" width="2" height="1" fill="#000"/>
<rect x="343" y="287" width="2" height="1" fill="#000"/>
<rect x="341" y="288" width="2" height="1" fill="#000"/>
<rect x="339" y="289" width="2" height="1" fill="#000"/>
<rect x="338" y="290" width="1" height="1" fill="#000"/>
<rect x="336" y="291" width="2" height="1" fill="#000"/>
<rect x="334" y="292" width="2" height="1" fill="#000"/>
<rect x="332" y="293" width="2" height="1" fill="#000"/>
<rect x="330" y="294" width="2" height="1" fill="#000"/>
<rect x="328" y="295" width="2" height="1" fill="#000"/>
<rect x="326" y="296" width="2" height="1" fill="#000"/>
<rect x="325" y="297" width="1" height="1" fill="#000"/>
<rect x="323" y="298" width="2" height="1" fill="#000"/>
<rect x="321" y="299" width="2" height="1" fill="#000"/>
<rect x="319" y="300" width="2" height="1" fill="#000"/>
<rect x="317" y="301" width="2" height="1" fill="#000"/>
<rect x="315" y="302" width="2" height="1" fill="#000"/>
<rect x="314" y="303" width="1" height="1" fill="#000"/>
<rect x="312" y="304" width="2" height="1" fill="#000"/>
<rect x="310" y="305" width="2" height="1" fill="#000"/>
<rect x="308" y="306" width="2" height="1" fill="#000"/>
<rect x="306" y="307" width="2" height="1" fill="#000"/>
<rect x="304" y="308" width="2" height="1" fill="#000"/>
<rect x="302" y="309" width="2" height="1" fill="#000"/>
<rect x="301" y="310" width="1" height="1" fill="#000"/>
<rect x="299" y="311" width="2" height="1" fill="#000"/>
<rect x="297" y="312" width="2" height="1" fill="#000"/>
<rect x="295" y="313" width="2" height="1" fill="#000"/>
<rect x="293" y="314" width="2" height="1" fill="#000"/>
<rect x="291" y="315" width="2" height="1" fill="#000"/>
<rect x="290" y="316" width="1" height="1" fill="#000"/>
<rect x="289" y="317" width="1" height="1" fill="#000"/>
<rect x="738" y="73" width="1" height="1" fill="#000"/>
<rect x="736" y="74" width="2" height="1" fill="#000"/>
<rect x="731" y="77" width="2" height="1" fill="#000"/>
<rect x="730" y="78" width="1" height="1" fill="#000"/>
<rect x="725" y="80" width="2" height="1" fill="#000"/>
<rect x="724" y="81" width="1" height="1" fill="#000"/>
<rect x="720" y="83" width="1" height="1" fill="#000"/>
<rect x="718" y="84" width="2" height="1" fill="#000"/>
<rect x="714" y="86" width="1" height="1" fill="#000"/>
<rect x="712" y="87" width="2" height="1" fill="#000"/>
<rect x="707" y="90" width="2" height="1" fill="#000"/>
<rect x="706" y="91" width="1" height="1" fill="#000"/>
<rect x="701" y="93" width="2" height="1" fill="#000"/>
<rect x="700" y="94" width="1" height="1" fill="#000"/>
<rect x="696" y="96" width="1" height="1" fill="#000"/>
<rect x="694" y="97" width="2" height="1" fill="#000"/>
<rect x="690" y="99" width="1" height="1" fill="#000"/>
<rect x="688" y="100" width="2" height="1" fill="#000"/>
<rect x="683" y="103" width="2" height="1" fill="#000"/>
<rect x="682" y="104" width="1" height="1" fill="#000"/>
<rect x="677" y="106" width="2" height="1" fill="#000"/>
<rect x="676" y="107" width="1" height="1" fill="#000"/>
<rect x="672" y="109" width="1" height="1" fill="#000"/>
<rect x="670" y="110" width="2" height="1" fill="#000"/>
<rect x="666" y="112" width="1" height="1" fill="#000"/>
<rect x="664" y="113" width="2" height="1" fill="#000"/>
<rect x="659" y="116" width="2" height="1" fill="#000"/>
<rect x="658" y="117" width="1" height="1" fill="#000"/>
<rect x="653" y="119" width="2" height="1" fill="#000"/>
<rect x="652" y="120" width="1" height="1" fill="#000"/>
<rect x="648" y="122" width="1" height="1" fill="#000"/>
<rect x="646" y="123" width="2" height="1" fill="#000"/>
<rect x="642" y="125" width="1" height="1" fill="#000"/>
<rect x="640" y="126" width="2" height="1" fill="#000"/>
<rect x="635" y="129" width="2" height="1" fill="#000"/>
<rect x="634" y="130" width="1" height="1" fill="#000"/>
<rect x="629" y="132" width="2" height="1" fill="#000"/>
<rect x="628" y="133" width="1" height="1" fill="#000"/>
<rect x="624" y="135" width="1" height="1" fill="#000"/>
<rect x="622" y="136" width="2" height="1" fill="#000"/>
<rect x="618" y="138" width="1" height="1" fill="#000"/>
<rect x="616" y="139" width="2" height="1" fill="#000"/>
<rect x="1" y="286" width="1" height="17" fill="#ff0000"/>
<rect x="0" y="288" width="3" height="12" fill="#ff0000"/>
<rect x="1" y="289" width="1" height="10" fill="#ffffff"/>
<rect x="5" y="280" width="1" height="10" fill="#008000"/>
<rect x="4" y="285" width="3" height="5" fill="#008000"/>
<rect x="9" y="273" width="1" height="18" fill="#ff0000"/>
<rect x="8" y="275" width="3" height="12" fill="#ff0000"/>
<rect x="9" y="276" width="1" height="10" fill="#ffffff"/>
<rect x="13" y="270" width="1" height="10" fill="#ff0000"/>
<rect x="12" y="274" width="3" height="1" fill="#ff0000"/>
<rect x="17" y="257" width="1" height="21" fill="#ff0000"/>
<rect x="16" y="260" width="3" height="14" fill="#ff0000"/>
<rect x="17" y="261" width="1" height="12" fill="#ffffff"/>
<rect x="21" y="250" width="1" height="14" fill="#008000"/>
<rect x="20" y="259" width="3" height="2" fill="#008000"/>
<rect x="25" y="257" width="1" height="14" fill="#ff0000"/>
<rect x="24" y="257" width="3" height="2" fill="#ff0000"/>
<rect x="29" y="257" width="1" height="16" fill="#008000"/>
<rect x="28" y="257" width="3" height="9" fill="#008000"/>
<rect x="33" y="260" width="1" height="11" fill="#008000"/>
<rect x="32" y="267" width="3" height="3" fill="#008000"/>
<rect x="37" y="254" width="1" height="21" fill="#ff0000"/>
<rect x="36" y="260" width="3" height="9" fill="#ff0000"/>
<rect x="37" y="261" width="1" height="7" fill="#ffffff"/>
<rect x="41" y="249" width="1" height="22" fill="#008000"/>
<rect x="40" y="261" width="3" height="9" fill="#008000"/>
<rect x="45" y="268" width="1" height="13" fill="#ff0000"/>
<rect x="44" y="271" width="3" height="1" fill="#ff0000"/>
<rect x="49" y="264" width="1" height="11" fill="#ff0000"/>
<rect x="48" y="269" width="3" height="1" fill="#ff0000"/>
<rect x="53" y="259" width="1" height="14" fill="#ff0000"/>
<rect x="52" y="268" width="3" height="1" fill="#ff0000"/>
<rect x="57" y="264" width="1" height="17" fill="#008000"/>
<rect x="56" y="267" width="3" height="10" fill="#008000"/>
<rect x="61" y="272" width="1" height="13" fill="#008000"/>
<rect x="60" y="277" width="3" height="3" fill="#008000"/>
<rect x="65" y="276" width="1" height="13" fill="#008000"/>
<rect x="64" y="281" width="3" height="2" fill="#008000"/>
<rect x="69" y="270" width="1" height="15" fill="#ff0000"/>
<rect x="68" y="273" width="3" height="8" fill="#ff0000"/>
<rect x="69" y="274" width="1" height="6" fill="#ffffff"/>
<rect x="73" y="262" width="1" height="16" fill="#ff0000"/>
<rect x="72" y="270" width="3" height="3" fill="#ff0000"/>
<rect x="73" y="271" width="1" height="1" fill="#ffffff"/>
<rect x="77" y="266" width="1" height="12" fill="#ff0000"/>
<rect x="76" y="270" width="3" height="1" fill="#ff0000"/>
<rect x="81" y="263" width="1" height="15" fill="#008000"/>
<rect x="80" y="270" width="3" height="1" fill="#008000"/>
<rect x="85" y="217" width="1" height="69" fill="#ff0000"/>
<rect x="84" y="217" width="3" height="69" fill="#ff0000"/>
<rect x="85" y="218" width="1" height="67" fill="#ffffff"/>
<rect x="89" y="267" width="1" height="13" fill="#008000"/>
<rect x="88" y="271" width="3" height="7" fill="#008000"/>
<rect x="93" y="267" width="1" height="15" fill="#ff0000"/>
<rect x="92" y="273" width="3" height="5" fill="#ff0000"/>
<rect x="93" y="274" width="1" height="3" fill="#ffffff"/>
<rect x="97" y="253" width="1" height="20" fill="#ff0000"/>
<rect x="96" y="259" width="3" height="14" fill="#ff0000"/>
<rect x="97" y="260" width="1" height="12" fill="#ffffff"/>
<rect x="101" y="250" width="1" height="20" fill="#ff0000"/>
<rect x="100" y="258" width="3" height="1" fill="#ff0000"/>
<rect x="105" y="262" width="1" height="1" fill="#008000"/>
<rect x="104" y="262" width="3" height="1" fill="#008000"/>
<rect x="109" y="238" width="1" height="23" fill="#ff0000"/>
<rect x="108" y="242" width="3" height="19" fill="#ff0000"/>
<rect x="109" y="243" width="1" height="17" fill="#ffffff"/>
<rect x="113" y="234" width="1" height="22" fill="#008000"/>
<rect x="112" y="241" width="3" height="11" fill="#008000"/>
<rect x="117" y="251" width="1" height="26" fill="#008000"/>
<rect x="116" y="251" width="3" height="20" fill="#008000"/>
<rect x="121" y="270" width="1" height="18" fill="#008000"/>
<rect x="120" y="272" width="3" height="16" fill="#008000"/>
<rect x="125" y="277" width="1" height="12" fill="#ff0000"/>
<rect x="124" y="285" width="3" height="1" fill="#ff0000"/>
<rect x="129" y="275" width="1" height="13" fill="#ff0000"/>
<rect x="128" y="281" width="3" height="4" fill="#ff0000"/>
<rect x="129" y="282" width="1" height="2" fill="#ffffff"/>
<rect x="133" y="280" width="1" height="15" fill="#008000"/>
<rect x="132" y="281" width="3" height="11" fill="#008000"/>
<rect x="137" y="274" width="1" height="20" fill="#ff0000"/>
<rect x="136" y="282" width="3" height="11" fill="#ff0000"/>
<rect x="137" y="283" width="1" height="9" fill="#ffffff"/>
<rect x="141" y="274" width="1" height="15" fill="#ff0000"/>
<rect x="140" y="275" width="3" height="7" fill="#ff0000"/>
<rect x="141" y="276" width="1" height="5" fill="#ffffff"/>
<rect x="145" y="268" width="1" height="9" fill="#ff0000"/>
<rect x="144" y="272" width="3" height="2" fill="#ff0000"/>
<rect x="149" y="270" width="1" height="9" fill="#008000"/>
<rect x="148" y="272" width="3" height="3" fill="#008000"/>
<rect x="153" y="265" width="1" height="16" fill="#ff0000"/>
<rect x="152" y="266" width="3" height="9" fill="#ff0000"/>
<rect x="153" y="267" width="1" height="7" fill="#ffffff"/>
<rect x="157" y="258" width="1" height="11" fill="#ff0000"/>
<rect x="156" y="262" width="3" height="4" fill="#ff0000"/>
<rect x="157" y="263" width="1" height="2" fill="#ffffff"/>
<rect x="161" y="255" width="1" height="13" fill="#ff0000"/>
<rect x="160" y="259" width="3" height="1" fill="#ff0000"/>
<rect x="165" y="256" width="1" height="8" fill="#008000"/>
<rect x="164" y="258" width="3" height="3" fill="#008000"/>
<rect x="169" y="247" width="1" height="18" fill="#ff0000"/>
<rect x="168" y="250" width="3" height="10" fill="#ff0000"/>
<rect x="169" y="251" width="1" height="8" fill="#ffffff"/>
<rect x="173" y="250" width="1" height="36" fill="#008000"/>
<rect x="172" y="251" width="3" height="30" fill="#008000"/>
<rect x="177" y="278" width="1" height="26" fill="#008000"/>
<rect x="176" y="281" width="3" height="22" fill="#008000"/>
<rect x="181" y="298" width="1" height="8" fill="#008000"/>
<rect x="180" y="302" width="3" height="2" fill="#008000"/>
<rect x="185" y="291" width="1" height="18" fill="#008000"/>
<rect x="184" y="301" width="3" height="6" fill="#008000"/>
<rect x="189" y="301" width="1" height="10" fill="#ff0000"/>
<rect x="188" y="305" width="3" height="3" fill="#ff0000"/>
<rect x="189" y="306" width="1" height="1" fill="#ffffff"/>
<rect x="193" y="293" width="1" height="19" fill="#ff0000"/>
<rect x="192" y="295" width="3" height="10" fill="#ff0000"/>
<rect x="193" y="296" width="1" height="8" fill="#ffffff"/>
<rect x="197" y="292" width="1" height="10" fill="#008000"/>
<rect x="196" y="296" width="3" height="4" fill="#008000"/>
<rect x="201" y="296" width="1" height="11" fill="#ff0000"/>
<rect x="200" y="299" width="3" height="1" fill="#ff0000"/>
<rect x="205" y="292" width="1" height="12" fill="#ff0000"/>
<rect x="204" y="294" width="3" height="4" fill="#ff0000"/>
<rect x="205" y="295" width="1" height="2" fill="#ffffff"/>
<rect x="209" y="289" width="1" height="11" fill="#ff0000"/>
<rect x="208" y="291" width="3" height="4" fill="#ff0000"/>
<rect x="209" y="292" width="1" height="2" fill="#ffffff"/>
<rect x="213" y="288" width="1" height="7" fill="#ff0000"/>
<rect x="212" y="290" width="3" height="1" fill="#ff0000"/>
<rect x="217" y="279" width="1" height="14" fill="#ff0000"/>
<rect x="216" y="280" width="3" height="8" fill="#ff0000"/>
<rect x="217" y="281" width="1" height="6" fill="#ffffff"/>
<rect x="221" y="279" width="1" height="18" fill="#008000"/>
<rect x="220" y="280" width="3" height="13" fill="#008000"/>
<rect x="225" y="290" width="1" height="16" fill="#008000"/>
<rect x="224" y="295" width="3" height="11" fill="#008000"/>
<rect x="229" y="285" width="1" height="24" fill="#ff0000"/>
<rect x="228" y="285" width="3" height="21" fill="#ff0000"/>
<rect x="229" y="286" width="1" height="19" fill="#ffffff"/>
<rect x="233" y="271" width="1" height="17" fill="#ff0000"/>
<rect x="232" y="274" width="3" height="10" fill="#ff0000"/>
<rect x="233" y="275" width="1" height="8" fill="#ffffff"/>
<rect x="237" y="267" width="1" height="10" fill="#ff0000"/>
<rect x="236" y="272" width="3" height="2" fill="#ff0000"/>
<rect x="241" y="265" width="1" height="11" fill="#ff0000"/>
<rect x="240" y="271" width="3" height="1" fill="#ff0000"/>
<rect x="245" y="261" width="1" height="10" fill="#008000"/>
<rect x="244" y="264" width="3" height="2" fill="#008000"/>
<rect x="249" y="265" width="1" height="6" fill="#008000"/>
<rect x="248" y="266" width="3" height="2" fill="#008000"/>
<rect x="253" y="253" width="1" height="20" fill="#ff0000"/>
<rect x="252" y="254" width="3" height="14" fill="#ff0000"/>
<rect x="253" y="255" width="1" height="12" fill="#ffffff"/>
<rect x="257" y="252" width="1" height="12" fill="#008000"/>
<rect x="256" y="255" width="3" height="5" fill="#008000"/>
<rect x="261" y="251" width="1" height="12" fill="#ff0000"/>
<rect x="260" y="252" width="3" height="8" fill="#ff0000"/>
<rect x="261" y="253" width="1" height="6" fill="#ffffff"/>
<rect x="265" y="246" width="1" height="7" fill="#ff0000"/>
<rect x="264" y="247" width="3" height="6" fill="#ff0000"/>
<rect x="265" y="248" width="1" height="4" fill="#ffffff"/>
<rect x="269" y="245" width="1" height="11" fill="#008000"/>
<rect x="268" y="248" width="3" height="8" fill="#008000"/>
<rect x="273" y="255" width="1" height="15" fill="#008000"/>
<rect x="272" y="255" width="3" height="8" fill="#008000"/>
<rect x="277" y="261" width="1" height="12" fill="#008000"/>
<rect x="276" y="263" width="3" height="8" fill="#008000"/>
<rect x="281" y="268" width="1" height="11" fill="#008000"/>
<rect x="280" y="270" width="3" height="9" fill="#008000"/>
<rect x="285" y="278" width="1" height="32" fill="#008000"/>
<rect x="284" y="281" width="3" height="29" fill="#008000"/>
<rect x="289" y="296" width="1" height="20" fill="#ff0000"/>
<rect x="288" y="299" width="3" height="11" fill="#ff0000"/>
<rect x="289" y="300" width="1" height="9" fill="#ffffff"/>
<rect x="293" y="286" width="1" height="14" fill="#ff0000"/>
<rect x="292" y="286" width="3" height="13" fill="#ff0000"/>
<rect x="293" y="287" width="1" height="11" fill="#ffffff"/>
<rect x="297" y="285" width="1" height="12" fill="#008000"/>
<rect x="296" y="286" width="3" height="4" fill="#008000"/>
<rect x="301" y="280" width="1" height="14" fill="#ff0000"/>
<rect x="300" y="285" width="3" height="7" fill="#ff0000"/>
<rect x="301" y="286" width="1" height="5" fill="#ffffff"/>
<rect x="305" y="266" width="1" height="19" fill="#ff0000"/>
<rect x="304" y="267" width="3" height="14" fill="#ff0000"/>
<rect x="305" y="268" width="1" height="12" fill="#ffffff"/>
<rect x="309" y="261" width="1" height="16" fill="#008000"/>
<rect x="308" y="267" width="3" height="10" fill="#008000"/>
<rect x="313" y="264" width="1" height="21" fill="#ff0000"/>
<rect x="312" y="269" width="3" height="8" fill="#ff0000"/>
<rect x="313" y="270" width="1" height="6" fill="#ffffff"/>
<rect x="317" y="258" width="1" height="15" fill="#ff0000"/>
<rect x="316" y="259" width="3" height="9" fill="#ff0000"/>
<rect x="317" y="260" width="1" height="7" fill="#ffffff"/>
<rect x="321" y="237" width="1" height="26" fill="#ff0000"/>
<rect x="320" y="242" width="3" height="17" fill="#ff0000"/>
<rect x="321" y="243" width="1" height="15" fill="#ffffff"/>
<rect x="325" y="229" width="1" height="19" fill="#ff0000"/>
<rect x="324" y="232" width="3" height="10" fill="#ff0000"/>
<rect x="325" y="233" width="1" height="8" fill="#ffffff"/>
<rect x="329" y="220" width="1" height="20" fill="#ff0000"/>
<rect x="328" y="221" width="3" height="11" fill="#ff0000"/>
<rect x="329" y="222" width="1" height="9" fill="#ffffff"/>
<rect x="333" y="208" width="1" height="22" fill="#ff0000"/>
<rect x="332" y="210" width="3" height="11" fill="#ff0000"/>
<rect x="333" y="211" width="1" height="9" fill="#ffffff"/>
<rect x="337" y="206" width="1" height="11" fill="#008000"/>
<rect x="336" y="210" width="3" height="4" fill="#008000"/>
<rect x="341" y="214" width="1" height="4" fill="#008000"/>
<rect x="340" y="215" width="3" height="2" fill="#008000"/>
<rect x="345" y="201" width="1" height="22" fill="#ff0000"/>
<rect x="344" y="204" width="3" height="14" fill="#ff0000"/>
<rect x="345" y="205" width="1" height="12" fill="#ffffff"/>
<rect x="349" y="201" width="1" height="12" fill="#008000"/>
<rect x="348" y="204" width="3" height="4" fill="#008000"/>
<rect x="353" y="207" width="1" height="13" fill="#008000"/>
<rect x="352" y="208" width="3" height="10" fill="#008000"/>
<rect x="357" y="204" width="1" height="14" fill="#ff0000"/>
<rect x="356" y="213" width="3" height="5" fill="#ff0000"/>
<rect x="357" y="214" width="1" height="3" fill="#ffffff"/>
<rect x="361" y="196" width="1" height="19" fill="#ff0000"/>
<rect x="360" y="207" width="3" height="5" fill="#ff0000"/>
<rect x="361" y="208" width="1" height="3" fill="#ffffff"/>
<rect x="365" y="181" width="1" height="27" fill="#ff0000"/>
<rect x="364" y="184" width="3" height="19" fill="#ff0000"/>
<rect x="365" y="185" width="1" height="17" fill="#ffffff"/>
<rect x="369" y="184" width="1" height="16" fill="#008000"/>
<rect x="368" y="185" width="3" height="12" fill="#008000"/>
<rect x="373" y="178" width="1" height="35" fill="#ff0000"/>
<rect x="372" y="180" width="3" height="16" fill="#ff0000"/>
<rect x="373" y="181" width="1" height="14" fill="#ffffff"/>
<rect x="377" y="174" width="1" height="14" fill="#ff0000"/>
<rect x="376" y="178" width="3" height="2" fill="#ff0000"/>
<rect x="381" y="176" width="1" height="14" fill="#008000"/>
<rect x="380" y="178" width="3" height="9" fill="#008000"/>
<rect x="385" y="183" width="1" height="7" fill="#ff0000"/>
<rect x="384" y="185" width="3" height="1" fill="#ff0000"/>
<rect x="389" y="159" width="1" height="29" fill="#ff0000"/>
<rect x="388" y="160" width="3" height="24" fill="#ff0000"/>
<rect x="389" y="161" width="1" height="22" fill="#ffffff"/>
<rect x="393" y="159" width="1" height="7" fill="#008000"/>
<rect x="392" y="160" width="3" height="5" fill="#008000"/>
<rect x="397" y="151" width="1" height="17" fill="#ff0000"/>
<rect x="396" y="152" width="3" height="12" fill="#ff0000"/>
<rect x="397" y="153" width="1" height="10" fill="#ffffff"/>
<rect x="401" y="139" width="1" height="15" fill="#ff0000"/>
<rect x="400" y="142" width="3" height="10" fill="#ff0000"/>
<rect x="401" y="143" width="1" height="8" fill="#ffffff"/>
<rect x="405" y="134" width="1" height="12" fill="#008000"/>
<rect x="404" y="141" width="3" height="3" fill="#008000"/>
<rect x="409" y="129" width="1" height="17" fill="#ff0000"/>
<rect x="408" y="131" width="3" height="12" fill="#ff0000"/>
<rect x="409" y="132" width="1" height="10" fill="#ffffff"/>
<rect x="413" y="129" width="1" height="17" fill="#ff0000"/>
<rect x="412" y="130" width="3" height="2" fill="#ff0000"/>
<rect x="417" y="124" width="1" height="31" fill="#008000"/>
<rect x="416" y="130" width="3" height="8" fill="#008000"/>
<rect x="421" y="129" width="1" height="10" fill="#ff0000"/>
<rect x="420" y="129" width="3" height="9" fill="#ff0000"/>
<rect x="421" y="130" width="1" height="7" fill="#ffffff"/>
<rect x="425" y="129" width="1" height="16" fill="#008000"/>
<rect x="424" y="131" width="3" height="13" fill="#008000"/>
<rect x="429" y="139" width="1" height="28" fill="#008000"/>
<rect x="428" y="143" width="3" height="16" fill="#008000"/>
<rect x="433" y="136" width="1" height="23" fill="#ff0000"/>
<rect x="432" y="140" width="3" height="19" fill="#ff0000"/>
<rect x="433" y="141" width="1" height="17" fill="#ffffff"/>
<rect x="437" y="134" width="1" height="29" fill="#008000"/>
<rect x="436" y="140" width="3" height="21" fill="#008000"/>
<rect x="441" y="139" width="1" height="27" fill="#ff0000"/>
<rect x="440" y="149" width="3" height="11" fill="#ff0000"/>
<rect x="441" y="150" width="1" height="9" fill="#ffffff"/>
<rect x="445" y="142" width="1" height="19" fill="#ff0000"/>
<rect x="444" y="148" width="3" height="1" fill="#ff0000"/>
<rect x="449" y="142" width="1" height="15" fill="#008000"/>
<rect x="448" y="149" width="3" height="7" fill="#008000"/>
<rect x="453" y="153" width="1" height="18" fill="#008000"/>
<rect x="452" y="154" width="3" height="11" fill="#008000"/>
<rect x="457" y="161" width="1" height="9" fill="#008000"/>
<rect x="456" y="164" width="3" height="2" fill="#008000"/>
<rect x="461" y="165" width="1" height="20" fill="#008000"/>
<rect x="460" y="166" width="3" height="8" fill="#008000"/>
<rect x="465" y="159" width="1" height="16" fill="#ff0000"/>
<rect x="464" y="162" width="3" height="12" fill="#ff0000"/>
<rect x="465" y="163" width="1" height="10" fill="#ffffff"/>
<rect x="469" y="147" width="1" height="19" fill="#ff0000"/>
<rect x="468" y="154" width="3" height="9" fill="#ff0000"/>
<rect x="469" y="155" width="1" height="7" fill="#ffffff"/>
<rect x="473" y="148" width="1" height="11" fill="#008000"/>
<rect x="472" y="154" width="3" height="2" fill="#008000"/>
<rect x="477" y="140" width="1" height="17" fill="#ff0000"/>
<rect x="476" y="153" width="3" height="3" fill="#ff0000"/>
<rect x="477" y="154" width="1" height="1" fill="#ffffff"/>
<rect x="481" y="142" width="1" height="27" fill="#ff0000"/>
<rect x="480" y="146" width="3" height="8" fill="#ff0000"/>
<rect x="481" y="147" width="1" height="6" fill="#ffffff"/>
<rect x="485" y="136" width="1" height="10" fill="#ff0000"/>
<rect x="484" y="143" width="3" height="2" fill="#ff0000"/>
<rect x="489" y="136" width="1" height="13" fill="#ff0000"/>
<rect x="488" y="142" width="3" height="1" fill="#ff0000"/>
<rect x="493" y="138" width="1" height="30" fill="#008000"/>
<rect x="492" y="142" width="3" height="25" fill="#008000"/>
<rect x="497" y="158" width="1" height="18" fill="#008000"/>
<rect x="496" y="166" width="3" height="1" fill="#008000"/>
<rect x="501" y="161" width="1" height="14" fill="#ff0000"/>
<rect x="500" y="167" width="3" height="1" fill="#ff0000"/>
<rect x="505" y="163" width="1" height="19" fill="#008000"/>
<rect x="504" y="169" width="3" height="2" fill="#008000"/>
<rect x="509" y="168" width="1" height="11" fill="#008000"/>
<rect x="508" y="172" width="3" height="7" fill="#008000"/>
<rect x="513" y="158" width="1" height="22" fill="#ff0000"/>
<rect x="512" y="167" width="3" height="12" fill="#ff0000"/>
<rect x="513" y="168" width="1" height="10" fill="#ffffff"/>
<rect x="517" y="165" width="1" height="17" fill="#008000"/>
<rect x="516" y="166" width="3" height="16" fill="#008000"/>
<rect x="521" y="171" width="1" height="12" fill="#ff0000"/>
<rect x="520" y="181" width="3" height="1" fill="#ff0000"/>
<rect x="525" y="177" width="1" height="5" fill="#ff0000"/>
<rect x="524" y="178" width="3" height="4" fill="#ff0000"/>
<rect x="525" y="179" width="1" height="2" fill="#ffffff"/>
<rect x="529" y="174" width="1" height="12" fill="#008000"/>
<rect x="528" y="178" width="3" height="2" fill="#008000"/>
<rect x="533" y="169" width="1" height="15" fill="#ff0000"/>
<rect x="532" y="170" width="3" height="10" fill="#ff0000"/>
<rect x="533" y="171" width="1" height="8" fill="#ffffff"/>
<rect x="537" y="152" width="1" height="20" fill="#ff0000"/>
<rect x="536" y="155" width="3" height="15" fill="#ff0000"/>
<rect x="537" y="156" width="1" height="13" fill="#ffffff"/>
<rect x="541" y="142" width="1" height="16" fill="#ff0000"/>
<rect x="540" y="143" width="3" height="11" fill="#ff0000"/>
<rect x="541" y="144" width="1" height="9" fill="#ffffff"/>
<rect x="545" y="137" width="1" height="10" fill="#ff0000"/>
<rect x="544" y="138" width="3" height="4" fill="#ff0000"/>
<rect x="545" y="139" width="1" height="2" fill="#ffffff"/>
<rect x="549" y="121" width="1" height="19" fill="#ff0000"/>
<rect x="548" y="130" width="3" height="8" fill="#ff0000"/>
<rect x="549" y="131" width="1" height="6" fill="#ffffff"/>
<rect x="553" y="112" width="1" height="20" fill="#ff0000"/>
<rect x="552" y="122" width="3" height="8" fill="#ff0000"/>
<rect x="553" y="123" width="1" height="6" fill="#ffffff"/>
<rect x="557" y="102" width="1" height="21" fill="#ff0000"/>
<rect x="556" y="118" width="3" height="5" fill="#ff0000"/>
<rect x="557" y="119" width="1" height="3" fill="#ffffff"/>
<rect x="561" y="110" width="1" height="22" fill="#ff0000"/>
<rect x="560" y="113" width="3" height="5" fill="#ff0000"/>
<rect x="561" y="114" width="1" height="3" fill="#ffffff"/>
<rect x="565" y="110" width="1" height="14" fill="#008000"/>
<rect x="564" y="111" width="3" height="2" fill="#008000"/>
<rect x="569" y="110" width="1" height="11" fill="#008000"/>
<rect x="568" y="112" width="3" height="8" fill="#008000"/>
<rect x="573" y="116" width="1" height="18" fill="#008000"/>
<rect x="572" y="119" width="3" height="6" fill="#008000"/>
<rect x="577" y="121" width="1" height="20" fill="#008000"/>
<rect x="576" y="124" width="3" height="11" fill="#008000"/>
<rect x="581" y="118" width="1" height="18" fill="#ff0000"/>
<rect x="580" y="118" width="3" height="16" fill="#ff0000"/>
<rect x="581" y="119" width="1" height="14" fill="#ffffff"/>
<rect x="585" y="109" width="1" height="14" fill="#ff0000"/>
<rect x="584" y="114" width="3" height="3" fill="#ff0000"/>
<rect x="585" y="115" width="1" height="1" fill="#ffffff"/>
<rect x="589" y="104" width="1" height="13" fill="#ff0000"/>
<rect x="588" y="106" width="3" height="8" fill="#ff0000"/>
<rect x="589" y="107" width="1" height="6" fill="#ffffff"/>
<rect x="593" y="103" width="1" height="9" fill="#008000"/>
<rect x="592" y="106" width="3" height="6" fill="#008000"/>
<rect x="597" y="103" width="1" height="12" fill="#ff0000"/>
<rect x="596" y="104" width="3" height="7" fill="#ff0000"/>
<rect x="597" y="105" width="1" height="5" fill="#ffffff"/>
<rect x="601" y="98" width="1" height="10" fill="#008000"/>
<rect x="600" y="104" width="3" height="4" fill="#008000"/>
<rect x="605" y="96" width="1" height="11" fill="#008000"/>
<rect x="604" y="104" width="3" height="3" fill="#008000"/>
<rect x="609" y="93" width="1" height="16" fill="#ff0000"/>
<rect x="608" y="106" width="3" height="2" fill="#ff0000"/>
<rect x="613" y="106" width="1" height="29" fill="#008000"/>
<rect x="612" y="106" width="3" height="24" fill="#008000"/>
<rect x="617" y="104" width="1" height="26" fill="#ff0000"/>
<rect x="616" y="107" width="3" height="22" fill="#ff0000"/>
<rect x="617" y="108" width="1" height="20" fill="#ffffff"/>
<rect x="621" y="90" width="1" height="18" fill="#ff0000"/>
<rect x="620" y="102" width="3" height="5" fill="#ff0000"/>
<rect x="621" y="103" width="1" height="3" fill="#ffffff"/>
<rect x="625" y="70" width="1" height="32" fill="#ff0000"/>
<rect x="624" y="71" width="3" height="30" fill="#ff0000"/>
<rect x="625" y="72" width="1" height="28" fill="#ffffff"/>
<rect x="629" y="70" width="1" height="16" fill="#008000"/>
<rect x="628" y="73" width="3" height="12" fill="#008000"/>
<rect x="633" y="71" width="1" height="14" fill="#ff0000"/>
<rect x="632" y="76" width="3" height="8" fill="#ff0000"/>
<rect x="633" y="77" width="1" height="6" fill="#ffffff"/>
<rect x="637" y="67" width="1" height="14" fill="#008000"/>
<rect x="636" y="76" width="3" height="4" fill="#008000"/>
<rect x="641" y="72" width="1" height="11" fill="#ff0000"/>
<rect x="640" y="75" width="3" height="4" fill="#ff0000"/>
<rect x="641" y="76" width="1" height="2" fill="#ffffff"/>
<rect x="645" y="65" width="1" height="13" fill="#ff0000"/>
<rect x="644" y="70" width="3" height="4" fill="#ff0000"/>
<rect x="645" y="71" width="1" height="2" fill="#ffffff"/>
<rect x="649" y="59" width="1" height="20" fill="#ff0000"/>
<rect x="648" y="65" width="3" height="5" fill="#ff0000"/>
<rect x="649" y="66" width="1" height="3" fill="#ffffff"/>
<rect x="653" y="58" width="1" height="18" fill="#ff0000"/>
<rect x="652" y="64" width="3" height="2" fill="#ff0000"/>
<rect x="657" y="54" width="1" height="14" fill="#ff0000"/>
<rect x="656" y="55" width="3" height="9" fill="#ff0000"/>
<rect x="657" y="56" width="1" height="7" fill="#ffffff"/>
<rect x="661" y="43" width="1" height="13" fill="#ff0000"/>
<rect x="660" y="44" width="3" height="11" fill="#ff0000"/>
<rect x="661" y="45" width="1" height="9" fill="#ffffff"/>
<rect x="665" y="26" width="1" height="18" fill="#ff0000"/>
<rect x="664" y="38" width="3" height="1" fill="#ff0000"/>
<rect x="669" y="28" width="1" height="12" fill="#ff0000"/>
<rect x="668" y="36" width="3" height="2" fill="#ff0000"/>
<rect x="673" y="18" width="1" height="20" fill="#ff0000"/>
<rect x="672" y="24" width="3" height="12" fill="#ff0000"/>
<rect x="673" y="25" width="1" height="10" fill="#ffffff"/>
<rect x="677" y="20" width="1" height="5" fill="#ff0000"/>
<rect x="676" y="23" width="3" height="1" fill="#ff0000"/>
<rect x="2" y="513" width="18" height="1" fill="#a4b4cc"/>
<rect x="26" y="513" width="18" height="1" fill="#a4b4cc"/>
<rect x="50" y="513" width="18" height="1" fill="#a4b4cc"/>
<rect x="74" y="513" width="18" height="1" fill="#a4b4cc"/>
<rect x="98" y="513" width="18" height="1" fill="#a4b4cc"/>
<rect x="122" y="513" width="18" height="1" fill="#a4b4cc"/>
<rect x="146" y="513" width="18" height="1" fill="#a4b4cc"/>
<rect x="170" y="513" width="18" height="1" fill="#a4b4cc"/>
<rect x="194" y="513" width="18" height="1" fill="#a4b4cc"/>
<rect x="218" y="513" width="18" height="1" fill="#a4b4cc"/>
<rect x="242" y="513" width="18" height="1" fill="#a4b4cc"/>
<rect x="266" y="513" width="18" height="1" fill="#a4b4cc"/>
<rect x="290" y="513" width="18" height="1" fill="#a4b4cc"/>
<rect x="314" y="513" width="18" height="1" fill="#a4b4cc"/>
<rect x="338" y="513" width="18" height="1" fill="#a4b4cc"/>
<rect x="362" y="513" width="18" height="1" fill="#a4b4cc"/>
<rect x="386" y="513" width="18" height="1" fill="#a4b4cc"/>
<rect x="410" y="513" width="18" height="1" fill="#a4b4cc"/>
<rect x="434" y="513" width="18" height="1" fill="#a4b4cc"/>
<rect x="458" y="513" width="18" height="1" fill="#a4b4cc"/>
<rect x="482" y="513" width="18" height="1" fill="#a4b4cc"/>
<rect x="506" y="513" width="18" height="1" fill="#a4b4cc"/>
<rect x="530" y="513" width="18" height="1" fill="#a4b4cc"/>
<rect x="554" y="513" width="18" height="1" fill="#a4b4cc"/>
<rect x="578" y="513" width="18" height="1" fill="#a4b4cc"/>
<rect x="602" y="513" width="18" height="1" fill="#a4b4cc"/>
<rect x="626" y="513" width="18" height="1" fill="#a4b4cc"/>
<rect x="650" y="513" width="18" height="1" fill="#a4b4cc"/>
<rect x="674" y="513" width="7" height="1" fill="#a4b4cc"/>
<rect x="1" y="505" width="1" height="8" fill="#ff0000"/>
<rect x="5" y="502" width="1" height="11" fill="#ff0000"/>
<rect x="9" y="496" width="1" height="17" fill="#ff0000"/>
<rect x="13" y="494" width="1" height="19" fill="#ff0000"/>
<rect x="17" y="488" width="1" height="25" fill="#ff0000"/>
<rect x="21" y="486" width="1" height="27" fill="#ff0000"/>
<rect x="25" y="486" width="1" height="27" fill="#ff0000"/>
<rect x="29" y="492" width="1" height="21" fill="#ff0000"/>
<rect x="33" y="499" width="1" height="14" fill="#ff0000"/>
<rect x="37" y="501" width="1" height="12" fill="#ff0000"/>
<rect x="41" y="508" width="1" height="5" fill="#ff0000"/>
<rect x="45" y="514" width="1" height="1" fill="#00c000"/>
<rect x="49" y="514" width="1" height="4" fill="#00c000"/>
<rect x="53" y="514" width="1" height="7" fill="#00c000"/>
<rect x="57" y="514" width="1" height="13" fill="#00c000"/>
<rect x="61" y="514" width="1" height="18" fill="#00c000"/>
<rect x="65" y="514" width="1" height="22" fill="#00c000"/>
<rect x="69" y="514" width="1" height="20" fill="#00c000"/>
<rect x="73" y="514" width="1" height="18" fill="#00c000"/>
<rect x="77" y="514" width="1" height="16" fill="#00c000"/>
<rect x="81" y="514" width="1" height="15" fill="#00c000"/>
<rect x="85" y="504" width="1" height="9" fill="#ff0000"/>
<rect x="89" y="514" width="1" height="3" fill="#00c000"/>
<rect x="93" y="514" width="1" height="9" fill="#00c000"/>
<rect x="97" y="514" width="1" height="7" fill="#00c000"/>
<rect x="101" y="514" width="1" height="5" fill="#00c000"/>
<rect x="105" y="514" width="1" height="7" fill="#00c000"/>
<rect x="109" y="512" width="1" height="1" fill="#ff0000"/>
<rect x="113" y="512" width="1" height="1" fill="#ff0000"/>
<rect x="117" y="514" width="1" height="7" fill="#00c000"/>
<rect x="121" y="514" width="1" height="20" fill="#00c000"/>
<rect x="125" y="514" width="1" height="26" fill="#00c000"/>
<rect x="129" y="514" width="1" height="27" fill="#00c000"/>
<rect x="133" y="514" width="1" height="31" fill="#00c000"/>
<rect x="137" y="514" width="1" height="28" fill="#00c000"/>
<rect x="141" y="514" width="1" height="22" fill="#00c000"/>
<rect x="145" y="514" width="1" height="16" fill="#00c000"/>
<rect x="149" y="514" width="1" height="13" fill="#00c000"/>
<rect x="153" y="514" width="1" height="7" fill="#00c000"/>
<rect x="161" y="508" width="1" height="5" fill="#ff0000"/>
<rect x="165" y="507" width="1" height="6" fill="#ff0000"/>
<rect x="169" y="502" width="1" height="11" fill="#ff0000"/>
<rect x="173" y="512" width="1" height="1" fill="#ff0000"/>
<rect x="177" y="514" width="1" height="13" fill="#00c000"/>
<rect x="181" y="514" width="1" height="24" fill="#00c000"/>
<rect x="185" y="514" width="1" height="30" fill="#00c000"/>
<rect x="189" y="514" width="1" height="31" fill="#00c000"/>
<rect x="193" y="514" width="1" height="26" fill="#00c000"/>
<rect x="197" y="514" width="1" height="24" fill="#00c000"/>
<rect x="201" y="514" width="1" height="20" fill="#00c000"/>
<rect x="205" y="514" width="1" height="14" fill="#00c000"/>
<rect x="209" y="514" width="1" height="8" fill="#00c000"/>
<rect x="213" y="514" width="1" height="4" fill="#00c000"/>
<rect x="217" y="509" width="1" height="4" fill="#ff0000"/>
<rect x="221" y="510" width="1" height="3" fill="#ff0000"/>
<rect x="225" y="514" width="1" height="1" fill="#00c000"/>
<rect x="229" y="510" width="1" height="3" fill="#ff0000"/>
<rect x="233" y="501" width="1" height="12" fill="#ff0000"/>
<rect x="237" y="496" width="1" height="17" fill="#ff0000"/>
<rect x="241" y="492" width="1" height="21" fill="#ff0000"/>
<rect x="245" y="489" width="1" height="24" fill="#ff0000"/>
<rect x="249" y="489" width="1" height="24" fill="#ff0000"/>
<rect x="253" y="484" width="1" height="29" fill="#ff0000"/>
<rect x="257" y="485" width="1" height="28" fill="#ff0000"/>
<rect x="261" y="484" width="1" height="29" fill="#ff0000"/>
<rect x="265" y="483" width="1" height="30" fill="#ff0000"/>
<rect x="269" y="487" width="1" height="26" fill="#ff0000"/>
<rect x="273" y="495" width="1" height="18" fill="#ff0000"/>
<rect x="277" y="503" width="1" height="10" fill="#ff0000"/>
<rect x="285" y="514" width="1" height="20" fill="#00c000"/>
<rect x="289" y="514" width="1" height="26" fill="#00c000"/>
<rect x="293" y="514" width="1" height="24" fill="#00c000"/>
<rect x="297" y="514" width="1" height="23" fill="#00c000"/>
<rect x="301" y="514" width="1" height="19" fill="#00c000"/>
<rect x="305" y="514" width="1" height="9" fill="#00c000"/>
<rect x="309" y="514" width="1" height="5" fill="#00c000"/>
<rect x="317" y="505" width="1" height="8" fill="#ff0000"/>
<rect x="321" y="494" width="1" height="19" fill="#ff0000"/>
<rect x="325" y="483" width="1" height="30" fill="#ff0000"/>
<rect x="329" y="474" width="1" height="39" fill="#ff0000"/>
<rect x="333" y="466" width="1" height="47" fill="#ff0000"/>
<rect x="337" y="465" width="1" height="48" fill="#ff0000"/>
<rect x="341" y="469" width="1" height="44" fill="#ff0000"/>
<rect x="345" y="469" width="1" height="44" fill="#ff0000"/>
<rect x="349" y="473" width="1" height="40" fill="#ff0000"/>
<rect x="353" y="483" width="1" height="30" fill="#ff0000"/>
<rect x="357" y="489" width="1" height="24" fill="#ff0000"/>
<rect x="361" y="493" width="1" height="20" fill="#ff0000"/>
<rect x="365" y="488" width="1" height="25" fill="#ff0000"/>
<rect x="369" y="492" width="1" height="21" fill="#ff0000"/>
<rect x="373" y="490" width="1" height="23" fill="#ff0000"/>
<rect x="377" y="490" width="1" height="23" fill="#ff0000"/>
<rect x="381" y="496" width="1" height="17" fill="#ff0000"/>
<rect x="385" y="501" width="1" height="12" fill="#ff0000"/>
<rect x="389" y="495" width="1" height="18" fill="#ff0000"/>
<rect x="393" y="496" width="1" height="17" fill="#ff0000"/>
<rect x="397" y="493" width="1" height="20" fill="#ff0000"/>
<rect x="401" y="489" width="1" height="24" fill="#ff0000"/>
<rect x="405" y="490" width="1" height="23" fill="#ff0000"/>
<rect x="409" y="488" width="1" height="25" fill="#ff0000"/>
<rect x="413" y="490" width="1" height="23" fill="#ff0000"/>
<rect x="417" y="496" width="1" height="17" fill="#ff0000"/>
<rect x="421" y="499" width="1" height="14" fill="#ff0000"/>
<rect x="425" y="509" width="1" height="4" fill="#ff0000"/>
<rect x="429" y="514" width="1" height="11" fill="#00c000"/>
<rect x="433" y="514" width="1" height="13" fill="#00c000"/>
<rect x="437" y="514" width="1" height="23" fill="#00c000"/>
<rect x="441" y="514" width="1" height="26" fill="#00c000"/>
<rect x="445" y="514" width="1" height="27" fill="#00c000"/>
<rect x="449" y="514" width="1" height="30" fill="#00c000"/>
<rect x="453" y="514" width="1" height="35" fill="#00c000"/>
<rect x="457" y="514" width="1" height="39" fill="#00c000"/>
<rect x="461" y="514" width="1" height="43" fill="#00c000"/>
<rect x="465" y="514" width="1" height="40" fill="#00c000"/>
<rect x="469" y="514" width="1" height="34" fill="#00c000"/>
<rect x="473" y="514" width="1" height="30" fill="#00c000"/>
<rect x="477" y="514" width="1" height="25" fill="#00c000"/>
<rect x="481" y="514" width="1" height="18" fill="#00c000"/>
<rect x="485" y="514" width="1" height="13" fill="#00c000"/>
<rect x="489" y="514" width="1" height="9" fill="#00c000"/>
<rect x="493" y="514" width="1" height="16" fill="#00c000"/>
<rect x="497" y="514" width="1" height="21" fill="#00c000"/>
<rect x="501" y="514" width="1" height="23" fill="#00c000"/>
<rect x="505" y="514" width="1" height="26" fill="#00c000"/>
<rect x="509" y="514" width="1" height="29" fill="#00c000"/>
<rect x="513" y="514" width="1" height="26" fill="#00c000"/>
<rect x="517" y="514" width="1" height="28" fill="#00c000"/>
<rect x="521" y="514" width="1" height="28" fill="#00c000"/>
<rect x="525" y="514" width="1" height="26" fill="#00c000"/>
<rect x="529" y="514" width="1" height="23" fill="#00c000"/>
<rect x="533" y="514" width="1" height="17" fill="#00c000"/>
<rect x="537" y="514" width="1" height="6" fill="#00c000"/>
<rect x="541" y="507" width="1" height="6" fill="#ff0000"/>
<rect x="545" y="497" width="1" height="16" fill="#ff0000"/>
<rect x="549" y="489" width="1" height="24" fill="#ff0000"/>
<rect x="553" y="482" width="1" height="31" fill="#ff0000"/>
<rect x="557" y="477" width="1" height="36" fill="#ff0000"/>
<rect x="561" y="474" width="1" height="39" fill="#ff0000"/>
<rect x="565" y="475" width="1" height="38" fill="#ff0000"/>
<rect x="569" y="480" width="1" height="33" fill="#ff0000"/>
<rect x="573" y="488" width="1" height="25" fill="#ff0000"/>
<rect x="577" y="498" width="1" height="15" fill="#ff0000"/>
<rect x="581" y="500" width="1" height="13" fill="#ff0000"/>
<rect x="585" y="500" width="1" height="13" fill="#ff0000"/>
<rect x="589" y="498" width="1" height="15" fill="#ff0000"/>
<rect x="593" y="501" width="1" height="12" fill="#ff0000"/>
<rect x="597" y="501" width="1" height="12" fill="#ff0000"/>
<rect x="601" y="503" width="1" height="10" fill="#ff0000"/>
<rect x="605" y="506" width="1" height="7" fill="#ff0000"/>
<rect x="609" y="508" width="1" height="5" fill="#ff0000"/>
<rect x="613" y="514" width="1" height="8" fill="#00c000"/>
<rect x="617" y="514" width="1" height="7" fill="#00c000"/>
<rect x="621" y="514" width="1" height="4" fill="#00c000"/>
<rect x="625" y="503" width="1" height="10" fill="#ff0000"/>
<rect x="629" y="501" width="1" height="12" fill="#ff0000"/>
<rect x="633" y="498" width="1" height="15" fill="#ff0000"/>
<rect x="637" y="499" width="1" height="14" fill="#ff0000"/>
<rect x="641" y="499" width="1" height="14" fill="#ff0000"/>
<rect x="645" y="499" width="1" height="14" fill="#ff0000"/>
<rect x="649" y="498" width="1" height="15" fill="#ff0000"/>
<rect x="653" y="499" width="1" height="14" fill="#ff0000"/>
<rect x="657" y="497" width="1" height="16" fill="#ff0000"/>
<rect x="661" y="494" width="1" height="19" fill="#ff0000"/>
<rect x="665" y="491" width="1" height="22" fill="#ff0000"/>
<rect x="669" y="491" width="1" height="22" fill="#ff0000"/>
<rect x="673" y="488" width="1" height="25" fill="#ff0000"/>
<rect x="677" y="488" width="1" height="25" fill="#ff0000"/>
<rect x="417" y="462" width="11" height="1" fill="#000"/>
<rect x="414" y="463" width="3" height="1" fill="#000"/>
<rect x="428" y="463" width="3" height="1" fill="#000"/>
<rect x="412" y="464" width="2" height="1" fill="#000"/>
<rect x="431" y="464" width="3" height="1" fill="#000"/>
<rect x="410" y="465" width="2" height="1" fill="#000"/>
<rect x="434" y="465" width="2" height="1" fill="#000"/>
<rect x="408" y="466" width="2" height="1" fill="#000"/>
<rect x="436" y="466" width="2" height="1" fill="#000"/>
<rect x="405" y="467" width="3" height="1" fill="#000"/>
<rect x="438" y="467" width="1" height="1" fill="#000"/>
<rect x="403" y="468" width="2" height="1" fill="#000"/>
<rect x="439" y="468" width="2" height="1" fill="#000"/>
<rect x="401" y="469" width="2" height="1" fill="#000"/>
<rect x="441" y="469" width="2" height="1" fill="#000"/>
<rect x="400" y="470" width="1" height="1" fill="#000"/>
<rect x="443" y="470" width="2" height="1" fill="#000"/>
<rect x="399" y="471" width="1" height="1" fill="#000"/>
<rect x="445" y="471" width="1" height="1" fill="#000"/>
<rect x="398" y="472" width="1" height="1" fill="#000"/>
<rect x="446" y="472" width="2" height="1" fill="#000"/>
<rect x="396" y="473" width="2" height="1" fill="#000"/>
<rect x="448" y="473" width="1" height="1" fill="#000"/>
<rect x="393" y="474" width="3" height="1" fill="#000"/>
<rect x="449" y="474" width="1" height="1" fill="#000"/>
<rect x="390" y="475" width="3" height="1" fill="#000"/>
<rect x="450" y="475" width="1" height="1" fill="#000"/>
<rect x="676" y="475" width="2" height="1" fill="#000"/>
<rect x="388" y="476" width="2" height="1" fill="#000"/>
<rect x="451" y="476" width="1" height="1" fill="#000"/>
<rect x="674" y="476" width="2" height="1" fill="#000"/>
<rect x="387" y="477" width="1" height="1" fill="#000"/>
<rect x="452" y="477" width="1" height="1" fill="#000"/>
<rect x="672" y="477" width="2" height="1" fill="#000"/>
<rect x="385" y="478" width="2" height="1" fill="#000"/>
<rect x="453" y="478" width="1" height="1" fill="#000"/>
<rect x="671" y="478" width="1" height="1" fill="#000"/>
<rect x="382" y="479" width="3" height="1" fill="#000"/>
<rect x="454" y="479" width="2" height="1" fill="#000"/>
<rect x="670" y="479" width="1" height="1" fill="#000"/>
<rect x="378" y="480" width="4" height="1" fill="#000"/>
<rect x="456" y="480" width="1" height="1" fill="#000"/>
<rect x="668" y="480" width="2" height="1" fill="#000"/>
<rect x="376" y="481" width="2" height="1" fill="#000"/>
<rect x="457" y="481" width="1" height="1" fill="#000"/>
<rect x="666" y="481" width="2" height="1" fill="#000"/>
<rect x="374" y="482" width="2" height="1" fill="#000"/>
<rect x="458" y="482" width="1" height="1" fill="#000"/>
<rect x="663" y="482" width="3" height="1" fill="#000"/>
<rect x="372" y="483" width="2" height="1" fill="#000"/>
<rect x="459" y="483" width="1" height="1" fill="#000"/>
<rect x="661" y="483" width="2" height="1" fill="#000"/>
<rect x="371" y="484" width="1" height="1" fill="#000"/>
<rect x="460" y="484" width="1" height="1" fill="#000"/>
<rect x="659" y="484" width="2" height="1" fill="#000"/>
<rect x="369" y="485" width="2" height="1" fill="#000"/>
<rect x="461" y="485" width="1" height="1" fill="#000"/>
<rect x="657" y="485" width="2" height="1" fill="#000"/>
<rect x="367" y="486" width="2" height="1" fill="#000"/>
<rect x="462" y="486" width="1" height="1" fill="#000"/>
<rect x="654" y="486" width="3" height="1" fill="#000"/>
<rect x="365" y="487" width="2" height="1" fill="#000"/>
<rect x="463" y="487" width="1" height="1" fill="#000"/>
<rect x="651" y="487" width="3" height="1" fill="#000"/>
<rect x="363" y="488" width="2" height="1" fill="#000"/>
<rect x="464" y="488" width="1" height="1" fill="#000"/>
<rect x="648" y="488" width="3" height="1" fill="#000"/>
<rect x="33" y="489" width="19" height="1" fill="#000"/>
<rect x="361" y="489" width="2" height="1" fill="#000"/>
<rect x="465" y="489" width="1" height="1" fill="#000"/>
<rect x="645" y="489" width="3" height="1" fill="#000"/>
<rect x="31" y="490" width="2" height="1" fill="#000"/>
<rect x="52" y="490" width="4" height="1" fill="#000"/>
<rect x="359" y="490" width="2" height="1" fill="#000"/>
<rect x="466" y="490" width="1" height="1" fill="#000"/>
<rect x="642" y="490" width="3" height="1" fill="#000"/>
<rect x="29" y="491" width="2" height="1" fill="#000"/>
<rect x="56" y="491" width="3" height="1" fill="#000"/>
<rect x="357" y="491" width="2" height="1" fill="#000"/>
<rect x="467" y="491" width="1" height="1" fill="#000"/>
<rect x="638" y="491" width="4" height="1" fill="#000"/>
<rect x="26" y="492" width="3" height="1" fill="#000"/>
<rect x="59" y="492" width="2" height="1" fill="#000"/>
<rect x="355" y="492" width="2" height="1" fill="#000"/>
<rect x="468" y="492" width="2" height="1" fill="#000"/>
<rect x="636" y="492" width="2" height="1" fill="#000"/>
<rect x="24" y="493" width="2" height="1" fill="#000"/>
<rect x="61" y="493" width="2" height="1" fill="#000"/>
<rect x="354" y="493" width="1" height="1" fill="#000"/>
<rect x="470" y="493" width="1" height="1" fill="#000"/>
<rect x="633" y="493" width="3" height="1" fill="#000"/>
<rect x="23" y="494" width="1" height="1" fill="#000"/>
<rect x="63" y="494" width="1" height="1" fill="#000"/>
<rect x="352" y="494" width="2" height="1" fill="#000"/>
<rect x="471" y="494" width="1" height="1" fill="#000"/>
<rect x="629" y="494" width="4" height="1" fill="#000"/>
<rect x="21" y="495" width="2" height="1" fill="#000"/>
<rect x="64" y="495" width="2" height="1" fill="#000"/>
<rect x="350" y="495" width="2" height="1" fill="#000"/>
<rect x="472" y="495" width="2" height="1" fill="#000"/>
<rect x="606" y="495" width="6" height="1" fill="#000"/>
<rect x="625" y="495" width="4" height="1" fill="#000"/>
<rect x="19" y="496" width="2" height="1" fill="#000"/>
<rect x="66" y="496" width="2" height="1" fill="#000"/>
<rect x="349" y="496" width="1" height="1" fill="#000"/>
<rect x="474" y="496" width="1" height="1" fill="#000"/>
<rect x="598" y="496" width="8" height="1" fill="#000"/>
<rect x="612" y="496" width="5" height="1" fill="#000"/>
<rect x="623" y="496" width="2" height="1" fill="#000"/>
<rect x="17" y="497" width="2" height="1" fill="#000"/>
<rect x="68" y="497" width="3" height="1" fill="#000"/>
<rect x="348" y="497" width="1" height="1" fill="#000"/>
<rect x="475" y="497" width="2" height="1" fill="#000"/>
<rect x="594" y="497" width="4" height="1" fill="#000"/>
<rect x="617" y="497" width="6" height="1" fill="#000"/>
<rect x="16" y="498" width="1" height="1" fill="#000"/>
<rect x="71" y="498" width="2" height="1" fill="#000"/>
<rect x="347" y="498" width="1" height="1" fill="#000"/>
<rect x="477" y="498" width="3" height="1" fill="#000"/>
<rect x="590" y="498" width="4" height="1" fill="#000"/>
<rect x="14" y="499" width="2" height="1" fill="#000"/>
<rect x="73" y="499" width="4" height="1" fill="#000"/>
<rect x="346" y="499" width="1" height="1" fill="#000"/>
<rect x="480" y="499" width="2" height="1" fill="#000"/>
<rect x="586" y="499" width="4" height="1" fill="#000"/>
<rect x="12" y="500" width="2" height="1" fill="#000"/>
<rect x="77" y="500" width="3" height="1" fill="#000"/>
<rect x="345" y="500" width="1" height="1" fill="#000"/>
<rect x="482" y="500" width="2" height="1" fill="#000"/>
<rect x="583" y="500" width="3" height="1" fill="#000"/>
<rect x="10" y="501" width="2" height="1" fill="#000"/>
<rect x="80" y="501" width="13" height="1" fill="#000"/>
<rect x="344" y="501" width="1" height="1" fill="#000"/>
<rect x="484" y="501" width="5" height="1" fill="#000"/>
<rect x="579" y="501" width="4" height="1" fill="#000"/>
<rect x="7" y="502" width="3" height="1" fill="#000"/>
<rect x="93" y="502" width="4" height="1" fill="#000"/>
<rect x="343" y="502" width="1" height="1" fill="#000"/>
<rect x="489" y="502" width="5" height="1" fill="#000"/>
<rect x="576" y="502" width="3" height="1" fill="#000"/>
<rect x="5" y="503" width="2" height="1" fill="#000"/>
<rect x="97" y="503" width="8" height="1" fill="#000"/>
<rect x="342" y="503" width="1" height="1" fill="#000"/>
<rect x="494" y="503" width="2" height="1" fill="#000"/>
<rect x="574" y="503" width="2" height="1" fill="#000"/>
<rect x="3" y="504" width="2" height="1" fill="#000"/>
<rect x="105" y="504" width="13" height="1" fill="#000"/>
<rect x="341" y="504" width="1" height="1" fill="#000"/>
<rect x="496" y="504" width="2" height="1" fill="#000"/>
<rect x="573" y="504" width="1" height="1" fill="#000"/>
<rect x="0" y="505" width="3" height="1" fill="#000"/>
<rect x="118" y="505" width="2" height="1" fill="#000"/>
<rect x="340" y="505" width="1" height="1" fill="#000"/>
<rect x="498" y="505" width="1" height="1" fill="#000"/>
<rect x="571" y="505" width="2" height="1" fill="#000"/>
<rect x="120" y="506" width="2" height="1" fill="#000"/>
<rect x="339" y="506" width="1" height="1" fill="#000"/>
<rect x="499" y="506" width="2" height="1" fill="#000"/>
<rect x="570" y="506" width="1" height="1" fill="#000"/>
<rect x="122" y="507" width="2" height="1" fill="#000"/>
<rect x="338" y="507" width="1" height="1" fill="#000"/>
<rect x="501" y="507" width="2" height="1" fill="#000"/>
<rect x="568" y="507" width="2" height="1" fill="#000"/>
<rect x="124" y="508" width="1" height="1" fill="#000"/>
<rect x="337" y="508" width="1" height="1" fill="#000"/>
<rect x="503" y="508" width="1" height="1" fill="#000"/>
<rect x="567" y="508" width="1" height="1" fill="#000"/>
<rect x="125" y="509" width="2" height="1" fill="#000"/>
<rect x="336" y="509" width="1" height="1" fill="#000"/>
<rect x="504" y="509" width="1" height="1" fill="#000"/>
<rect x="566" y="509" width="1" height="1" fill="#000"/>
<rect x="127" y="510" width="1" height="1" fill="#000"/>
<rect x="335" y="510" width="1" height="1" fill="#000"/>
<rect x="505" y="510" width="1" height="1" fill="#000"/>
<rect x="565" y="510" width="1" height="1" fill="#000"/>
<rect x="128" y="511" width="1" height="1" fill="#000"/>
<rect x="334" y="511" width="1" height="1" fill="#000"/>
<rect x="506" y="511" width="2" height="1" fill="#000"/>
<rect x="564" y="511" width="1" height="1" fill="#000"/>
<rect x="129" y="512" width="2" height="1" fill="#000"/>
<rect x="334" y="512" width="1" height="1" fill="#000"/>
<rect x="508" y="512" width="1" height="1" fill="#000"/>
<rect x="563" y="512" width="1" height="1" fill="#000"/>
<rect x="131" y="513" width="1" height="1" fill="#000"/>
<rect x="333" y="513" width="1" height="1" fill="#000"/>
<rect x="509" y="513" width="1" height="1" fill="#000"/>
<rect x="562" y="513" width="1" height="1" fill="#000"/>
<rect x="132" y="514" width="1" height="1" fill="#000"/>
<rect x="332" y="514" width="1" height="1" fill="#000"/>
<rect x="510" y="514" width="2" height="1" fill="#000"/>
<rect x="560" y="514" width="2" height="1" fill="#000"/>
<rect x="133" y="515" width="1" height="1" fill="#000"/>
<rect x="272" y="515" width="11" height="1" fill="#000"/>
<rect x="331" y="515" width="1" height="1" fill="#000"/>
<rect x="512" y="515" width="2" height="1" fill="#000"/>
<rect x="559" y="515" width="1" height="1" fill="#000"/>
<rect x="134" y="516" width="2" height="1" fill="#000"/>
<rect x="270" y="516" width="2" height="1" fill="#000"/>
<rect x="283" y="516" width="2" height="1" fill="#000"/>
<rect x="330" y="516" width="1" height="1" fill="#000"/>
<rect x="514" y="516" width="1" height="1" fill="#000"/>
<rect x="558" y="516" width="1" height="1" fill="#000"/>
<rect x="136" y="517" width="1" height="1" fill="#000"/>
<rect x="268" y="517" width="2" height="1" fill="#000"/>
<rect x="285" y="517" width="2" height="1" fill="#000"/>
<rect x="329" y="517" width="1" height="1" fill="#000"/>
<rect x="515" y="517" width="1" height="1" fill="#000"/>
<rect x="557" y="517" width="1" height="1" fill="#000"/>
<rect x="137" y="518" width="2" height="1" fill="#000"/>
<rect x="266" y="518" width="2" height="1" fill="#000"/>
<rect x="287" y="518" width="2" height="1" fill="#000"/>
<rect x="328" y="518" width="1" height="1" fill="#000"/>
<rect x="516" y="518" width="1" height="1" fill="#000"/>
<rect x="555" y="518" width="2" height="1" fill="#000"/>
<rect x="139" y="519" width="2" height="1" fill="#000"/>
<rect x="264" y="519" width="2" height="1" fill="#000"/>
<rect x="289" y="519" width="2" height="1" fill="#000"/>
<rect x="327" y="519" width="1" height="1" fill="#000"/>
<rect x="517" y="519" width="1" height="1" fill="#000"/>
<rect x="554" y="519" width="1" height="1" fill="#000"/>
<rect x="141" y="520" width="3" height="1" fill="#000"/>
<rect x="263" y="520" width="1" height="1" fill="#000"/>
<rect x="291" y="520" width="2" height="1" fill="#000"/>
<rect x="326" y="520" width="1" height="1" fill="#000"/>
<rect x="518" y="520" width="2" height="1" fill="#000"/>
<rect x="553" y="520" width="1" height="1" fill="#000"/>
<rect x="144" y="521" width="2" height="1" fill="#000"/>
<rect x="164" y="521" width="11" height="1" fill="#000"/>
<rect x="261" y="521" width="2" height="1" fill="#000"/>
<rect x="293" y="521" width="2" height="1" fill="#000"/>
<rect x="325" y="521" width="1" height="1" fill="#000"/>
<rect x="520" y="521" width="1" height="1" fill="#000"/>
<rect x="552" y="521" width="1" height="1" fill="#000"/>
<rect x="146" y="522" width="3" height="1" fill="#000"/>
<rect x="158" y="522" width="6" height="1" fill="#000"/>
<rect x="175" y="522" width="2" height="1" fill="#000"/>
<rect x="260" y="522" width="1" height="1" fill="#000"/>
<rect x="295" y="522" width="1" height="1" fill="#000"/>
<rect x="324" y="522" width="1" height="1" fill="#000"/>
<rect x="521" y="522" width="2" height="1" fill="#000"/>
<rect x="551" y="522" width="1" height="1" fill="#000"/>
<rect x="149" y="523" width="9" height="1" fill="#000"/>
<rect x="177" y="523" width="2" height="1" fill="#000"/>
<rect x="258" y="523" width="2" height="1" fill="#000"/>
<rect x="296" y="523" width="1" height="1" fill="#000"/>
<rect x="322" y="523" width="2" height="1" fill="#000"/>
<rect x="523" y="523" width="2" height="1" fill="#000"/>
<rect x="549" y="523" width="2" height="1" fill="#000"/>
<rect x="179" y="524" width="2" height="1" fill="#000"/>
<rect x="257" y="524" width="1" height="1" fill="#000"/>
<rect x="297" y="524" width="2" height="1" fill="#000"/>
<rect x="321" y="524" width="1" height="1" fill="#000"/>
<rect x="525" y="524" width="2" height="1" fill="#000"/>
<rect x="547" y="524" width="2" height="1" fill="#000"/>
<rect x="181" y="525" width="1" height="1" fill="#000"/>
<rect x="256" y="525" width="1" height="1" fill="#000"/>
<rect x="299" y="525" width="4" height="1" fill="#000"/>
<rect x="317" y="525" width="4" height="1" fill="#000"/>
<rect x="527" y="525" width="2" height="1" fill="#000"/>
<rect x="545" y="525" width="2" height="1" fill="#000"/>
<rect x="182" y="526" width="1" height="1" fill="#000"/>
<rect x="255" y="526" width="1" height="1" fill="#000"/>
<rect x="303" y="526" width="6" height="1" fill="#000"/>
<rect x="314" y="526" width="3" height="1" fill="#000"/>
<rect x="529" y="526" width="4" height="1" fill="#000"/>
<rect x="542" y="526" width="3" height="1" fill="#000"/>
<rect x="183" y="527" width="2" height="1" fill="#000"/>
<rect x="253" y="527" width="2" height="1" fill="#000"/>
<rect x="309" y="527" width="5" height="1" fill="#000"/>
<rect x="533" y="527" width="3" height="1" fill="#000"/>
<rect x="539" y="527" width="3" height="1" fill="#000"/>
<rect x="185" y="528" width="1" height="1" fill="#000"/>
<rect x="251" y="528" width="2" height="1" fill="#000"/>
<rect x="536" y="528" width="3" height="1" fill="#000"/>
<rect x="186" y="529" width="2" height="1" fill="#000"/>
<rect x="250" y="529" width="1" height="1" fill="#000"/>
<rect x="188" y="530" width="1" height="1" fill="#000"/>
<rect x="248" y="530" width="2" height="1" fill="#000"/>
<rect x="189" y="531" width="2" height="1" fill="#000"/>
<rect x="247" y="531" width="1" height="1" fill="#000"/>
<rect x="191" y="532" width="1" height="1" fill="#000"/>
<rect x="246" y="532" width="1" height="1" fill="#000"/>
<rect x="192" y="533" width="2" height="1" fill="#000"/>
<rect x="244" y="533" width="2" height="1" fill="#000"/>
<rect x="194" y="534" width="1" height="1" fill="#000"/>
<rect x="242" y="534" width="2" height="1" fill="#000"/>
<rect x="195" y="535" width="2" height="1" fill="#000"/>
<rect x="240" y="535" width="2" height="1" fill="#000"/>
<rect x="197" y="536" width="1" height="1" fill="#000"/>
<rect x="239" y="536" width="1" height="1" fill="#000"/>
<rect x="198" y="537" width="2" height="1" fill="#000"/>
<rect x="237" y="537" width="2" height="1" fill="#000"/>
<rect x="200" y="538" width="3" height="1" fill="#000"/>
<rect x="235" y="538" width="2" height="1" fill="#000"/>
<rect x="203" y="539" width="5" height="1" fill="#000"/>
<rect x="215" y="539" width="10" height="1" fill="#000"/>
<rect x="230" y="539" width="5" height="1" fill="#000"/>
<rect x="208" y="540" width="7" height="1" fill="#000"/>
<rect x="225" y="540" width="5" height="1" fill="#000"/>
<rect x="412" y="456" width="4" height="1" fill="#0000ff"/>
<rect x="409" y="457" width="3" height="1" fill="#0000ff"/>
<rect x="416" y="457" width="6" height="1" fill="#0000ff"/>
<rect x="408" y="458" width="1" height="1" fill="#0000ff"/>
<rect x="422" y="458" width="2" height="1" fill="#0000ff"/>
<rect x="407" y="459" width="1" height="1" fill="#0000ff"/>
<rect x="424" y="459" width="1" height="1" fill="#0000ff"/>
<rect x="405" y="460" width="2" height="1" fill="#0000ff"/>
<rect x="425" y="460" width="1" height="1" fill="#0000ff"/>
<rect x="403" y="461" width="2" height="1" fill="#0000ff"/>
<rect x="425" y="461" width="1" height="1" fill="#0000ff"/>
<rect x="402" y="462" width="1" height="1" fill="#0000ff"/>
<rect x="426" y="462" width="1" height="1" fill="#0000ff"/>
<rect x="400" y="463" width="2" height="1" fill="#0000ff"/>
<rect x="427" y="463" width="1" height="1" fill="#0000ff"/>
<rect x="399" y="464" width="1" height="1" fill="#0000ff"/>
<rect x="427" y="464" width="1" height="1" fill="#0000ff"/>
<rect x="397" y="465" width="2" height="1" fill="#0000ff"/>
<rect x="428" y="465" width="1" height="1" fill="#0000ff"/>
<rect x="396" y="466" width="1" height="1" fill="#0000ff"/>
<rect x="429" y="466" width="1" height="1" fill="#0000ff"/>
<rect x="676" y="466" width="2" height="1" fill="#0000ff"/>
<rect x="395" y="467" width="1" height="1" fill="#0000ff"/>
<rect x="430" y="467" width="1" height="1" fill="#0000ff"/>
<rect x="674" y="467" width="2" height="1" fill="#0000ff"/>
<rect x="394" y="468" width="1" height="1" fill="#0000ff"/>
<rect x="431" y="468" width="2" height="1" fill="#0000ff"/>
<rect x="673" y="468" width="1" height="1" fill="#0000ff"/>
<rect x="391" y="469" width="3" height="1" fill="#0000ff"/>
<rect x="433" y="469" width="1" height="1" fill="#0000ff"/>
<rect x="671" y="469" width="2" height="1" fill="#0000ff"/>
<rect x="389" y="470" width="2" height="1" fill="#0000ff"/>
<rect x="434" y="470" width="1" height="1" fill="#0000ff"/>
<rect x="670" y="470" width="1" height="1" fill="#0000ff"/>
<rect x="388" y="471" width="1" height="1" fill="#0000ff"/>
<rect x="434" y="471" width="1" height="1" fill="#0000ff"/>
<rect x="669" y="471" width="1" height="1" fill="#0000ff"/>
<rect x="387" y="472" width="1" height="1" fill="#0000ff"/>
<rect x="435" y="472" width="1" height="1" fill="#0000ff"/>
<rect x="667" y="472" width="2" height="1" fill="#0000ff"/>
<rect x="376" y="473" width="8" height="1" fill="#0000ff"/>
<rect x="386" y="473" width="1" height="1" fill="#0000ff"/>
<rect x="436" y="473" width="1" height="1" fill="#0000ff"/>
<rect x="666" y="473" width="1" height="1" fill="#0000ff"/>
<rect x="374" y="474" width="2" height="1" fill="#0000ff"/>
<rect x="384" y="474" width="2" height="1" fill="#0000ff"/>
<rect x="436" y="474" width="1" height="1" fill="#0000ff"/>
<rect x="665" y="474" width="1" height="1" fill="#0000ff"/>
<rect x="373" y="475" width="1" height="1" fill="#0000ff"/>
<rect x="437" y="475" width="1" height="1" fill="#0000ff"/>
<rect x="664" y="475" width="1" height="1" fill="#0000ff"/>
<rect x="371" y="476" width="2" height="1" fill="#0000ff"/>
<rect x="438" y="476" width="1" height="1" fill="#0000ff"/>
<rect x="662" y="476" width="2" height="1" fill="#0000ff"/>
<rect x="370" y="477" width="1" height="1" fill="#0000ff"/>
<rect x="439" y="477" width="1" height="1" fill="#0000ff"/>
<rect x="661" y="477" width="1" height="1" fill="#0000ff"/>
<rect x="365" y="478" width="5" height="1" fill="#0000ff"/>
<rect x="440" y="478" width="1" height="1" fill="#0000ff"/>
<rect x="660" y="478" width="1" height="1" fill="#0000ff"/>
<rect x="364" y="479" width="1" height="1" fill="#0000ff"/>
<rect x="441" y="479" width="1" height="1" fill="#0000ff"/>
<rect x="658" y="479" width="2" height="1" fill="#0000ff"/>
<rect x="363" y="480" width="1" height="1" fill="#0000ff"/>
<rect x="442" y="480" width="1" height="1" fill="#0000ff"/>
<rect x="656" y="480" width="2" height="1" fill="#0000ff"/>
<rect x="362" y="481" width="1" height="1" fill="#0000ff"/>
<rect x="443" y="481" width="1" height="1" fill="#0000ff"/>
<rect x="654" y="481" width="2" height="1" fill="#0000ff"/>
<rect x="348" y="482" width="4" height="1" fill="#0000ff"/>
<rect x="361" y="482" width="1" height="1" fill="#0000ff"/>
<rect x="444" y="482" width="2" height="1" fill="#0000ff"/>
<rect x="651" y="482" width="3" height="1" fill="#0000ff"/>
<rect x="25" y="483" width="4" height="1" fill="#0000ff"/>
<rect x="346" y="483" width="2" height="1" fill="#0000ff"/>
<rect x="352" y="483" width="9" height="1" fill="#0000ff"/>
<rect x="446" y="483" width="1" height="1" fill="#0000ff"/>
<rect x="649" y="483" width="2" height="1" fill="#0000ff"/>
<rect x="24" y="484" width="1" height="1" fill="#0000ff"/>
<rect x="29" y="484" width="9" height="1" fill="#0000ff"/>
<rect x="345" y="484" width="1" height="1" fill="#0000ff"/>
<rect x="447" y="484" width="1" height="1" fill="#0000ff"/>
<rect x="647" y="484" width="2" height="1" fill="#0000ff"/>
<rect x="22" y="485" width="2" height="1" fill="#0000ff"/>
<rect x="38" y="485" width="2" height="1" fill="#0000ff"/>
<rect x="344" y="485" width="1" height="1" fill="#0000ff"/>
<rect x="448" y="485" width="1" height="1" fill="#0000ff"/>
<rect x="643" y="485" width="4" height="1" fill="#0000ff"/>
<rect x="21" y="486" width="1" height="1" fill="#0000ff"/>
<rect x="40" y="486" width="2" height="1" fill="#0000ff"/>
<rect x="343" y="486" width="1" height="1" fill="#0000ff"/>
<rect x="449" y="486" width="1" height="1" fill="#0000ff"/>
<rect x="638" y="486" width="5" height="1" fill="#0000ff"/>
<rect x="18" y="487" width="3" height="1" fill="#0000ff"/>
<rect x="42" y="487" width="2" height="1" fill="#0000ff"/>
<rect x="342" y="487" width="1" height="1" fill="#0000ff"/>
<rect x="450" y="487" width="1" height="1" fill="#0000ff"/>
<rect x="635" y="487" width="3" height="1" fill="#0000ff"/>
<rect x="17" y="488" width="1" height="1" fill="#0000ff"/>
<rect x="44" y="488" width="2" height="1" fill="#0000ff"/>
<rect x="341" y="488" width="1" height="1" fill="#0000ff"/>
<rect x="450" y="488" width="1" height="1" fill="#0000ff"/>
<rect x="633" y="488" width="2" height="1" fill="#0000ff"/>
<rect x="16" y="489" width="1" height="1" fill="#0000ff"/>
<rect x="46" y="489" width="2" height="1" fill="#0000ff"/>
<rect x="339" y="489" width="2" height="1" fill="#0000ff"/>
<rect x="451" y="489" width="1" height="1" fill="#0000ff"/>
<rect x="631" y="489" width="2" height="1" fill="#0000ff"/>
<rect x="15" y="490" width="1" height="1" fill="#0000ff"/>
<rect x="48" y="490" width="1" height="1" fill="#0000ff"/>
<rect x="338" y="490" width="1" height="1" fill="#0000ff"/>
<rect x="452" y="490" width="1" height="1" fill="#0000ff"/>
<rect x="630" y="490" width="1" height="1" fill="#0000ff"/>
<rect x="15" y="491" width="1" height="1" fill="#0000ff"/>
<rect x="49" y="491" width="2" height="1" fill="#0000ff"/>
<rect x="337" y="491" width="1" height="1" fill="#0000ff"/>
<rect x="453" y="491" width="1" height="1" fill="#0000ff"/>
<rect x="628" y="491" width="2" height="1" fill="#0000ff"/>
<rect x="14" y="492" width="1" height="1" fill="#0000ff"/>
<rect x="51" y="492" width="2" height="1" fill="#0000ff"/>
<rect x="336" y="492" width="1" height="1" fill="#0000ff"/>
<rect x="454" y="492" width="1" height="1" fill="#0000ff"/>
<rect x="626" y="492" width="2" height="1" fill="#0000ff"/>
<rect x="13" y="493" width="1" height="1" fill="#0000ff"/>
<rect x="53" y="493" width="1" height="1" fill="#0000ff"/>
<rect x="335" y="493" width="1" height="1" fill="#0000ff"/>
<rect x="454" y="493" width="1" height="1" fill="#0000ff"/>
<rect x="594" y="493" width="14" height="1" fill="#0000ff"/>
<rect x="625" y="493" width="1" height="1" fill="#0000ff"/>
<rect x="13" y="494" width="1" height="1" fill="#0000ff"/>
<rect x="54" y="494" width="1" height="1" fill="#0000ff"/>
<rect x="334" y="494" width="1" height="1" fill="#0000ff"/>
<rect x="455" y="494" width="1" height="1" fill="#0000ff"/>
<rect x="588" y="494" width="6" height="1" fill="#0000ff"/>
<rect x="608" y="494" width="2" height="1" fill="#0000ff"/>
<rect x="624" y="494" width="1" height="1" fill="#0000ff"/>
<rect x="11" y="495" width="2" height="1" fill="#0000ff"/>
<rect x="55" y="495" width="2" height="1" fill="#0000ff"/>
<rect x="334" y="495" width="1" height="1" fill="#0000ff"/>
<rect x="456" y="495" width="1" height="1" fill="#0000ff"/>
<rect x="566" y="495" width="8" height="1" fill="#0000ff"/>
<rect x="586" y="495" width="2" height="1" fill="#0000ff"/>
<rect x="610" y="495" width="1" height="1" fill="#0000ff"/>
<rect x="623" y="495" width="1" height="1" fill="#0000ff"/>
<rect x="9" y="496" width="2" height="1" fill="#0000ff"/>
<rect x="57" y="496" width="1" height="1" fill="#0000ff"/>
<rect x="333" y="496" width="1" height="1" fill="#0000ff"/>
<rect x="457" y="496" width="1" height="1" fill="#0000ff"/>
<rect x="564" y="496" width="2" height="1" fill="#0000ff"/>
<rect x="574" y="496" width="2" height="1" fill="#0000ff"/>
<rect x="582" y="496" width="4" height="1" fill="#0000ff"/>
<rect x="611" y="496" width="1" height="1" fill="#0000ff"/>
<rect x="623" y="496" width="1" height="1" fill="#0000ff"/>
<rect x="8" y="497" width="1" height="1" fill="#0000ff"/>
<rect x="58" y="497" width="1" height="1" fill="#0000ff"/>
<rect x="332" y="497" width="1" height="1" fill="#0000ff"/>
<rect x="457" y="497" width="1" height="1" fill="#0000ff"/>
<rect x="562" y="497" width="2" height="1" fill="#0000ff"/>
<rect x="576" y="497" width="1" height="1" fill="#0000ff"/>
<rect x="578" y="497" width="4" height="1" fill="#0000ff"/>
<rect x="612" y="497" width="1" height="1" fill="#0000ff"/>
<rect x="622" y="497" width="1" height="1" fill="#0000ff"/>
<rect x="7" y="498" width="1" height="1" fill="#0000ff"/>
<rect x="59" y="498" width="1" height="1" fill="#0000ff"/>
<rect x="85" y="498" width="1" height="1" fill="#0000ff"/>
<rect x="332" y="498" width="1" height="1" fill="#0000ff"/>
<rect x="458" y="498" width="1" height="1" fill="#0000ff"/>
<rect x="561" y="498" width="1" height="1" fill="#0000ff"/>
<rect x="577" y="498" width="1" height="1" fill="#0000ff"/>
<rect x="612" y="498" width="1" height="1" fill="#0000ff"/>
<rect x="621" y="498" width="1" height="1" fill="#0000ff"/>
<rect x="6" y="499" width="1" height="1" fill="#0000ff"/>
<rect x="60" y="499" width="1" height="1" fill="#0000ff"/>
<rect x="84" y="499" width="1" height="1" fill="#0000ff"/>
<rect x="86" y="499" width="1" height="1" fill="#0000ff"/>
<rect x="331" y="499" width="1" height="1" fill="#0000ff"/>
<rect x="459" y="499" width="1" height="1" fill="#0000ff"/>
<rect x="560" y="499" width="1" height="1" fill="#0000ff"/>
<rect x="613" y="499" width="9" height="1" fill="#0000ff"/>
<rect x="5" y="500" width="1" height="1" fill="#0000ff"/>
<rect x="61" y="500" width="1" height="1" fill="#0000ff"/>
<rect x="84" y="500" width="1" height="1" fill="#0000ff"/>
<rect x="87" y="500" width="1" height="1" fill="#0000ff"/>
<rect x="331" y="500" width="1" height="1" fill="#0000ff"/>
<rect x="460" y="500" width="1" height="1" fill="#0000ff"/>
<rect x="559" y="500" width="1" height="1" fill="#0000ff"/>
<rect x="3" y="501" width="2" height="1" fill="#0000ff"/>
<rect x="62" y="501" width="1" height="1" fill="#0000ff"/>
<rect x="83" y="501" width="1" height="1" fill="#0000ff"/>
<rect x="88" y="501" width="1" height="1" fill="#0000ff"/>
<rect x="330" y="501" width="1" height="1" fill="#0000ff"/>
<rect x="460" y="501" width="1" height="1" fill="#0000ff"/>
<rect x="558" y="501" width="1" height="1" fill="#0000ff"/>
<rect x="2" y="502" width="1" height="1" fill="#0000ff"/>
<rect x="63" y="502" width="1" height="1" fill="#0000ff"/>
<rect x="83" y="502" width="1" height="1" fill="#0000ff"/>
<rect x="89" y="502" width="1" height="1" fill="#0000ff"/>
<rect x="330" y="502" width="1" height="1" fill="#0000ff"/>
<rect x="461" y="502" width="2" height="1" fill="#0000ff"/>
<rect x="557" y="502" width="1" height="1" fill="#0000ff"/>
<rect x="1" y="503" width="1" height="1" fill="#0000ff"/>
<rect x="64" y="503" width="1" height="1" fill="#0000ff"/>
<rect x="83" y="503" width="1" height="1" fill="#0000ff"/>
<rect x="90" y="503" width="1" height="1" fill="#0000ff"/>
<rect x="329" y="503" width="1" height="1" fill="#0000ff"/>
<rect x="463" y="503" width="1" height="1" fill="#0000ff"/>
<rect x="556" y="503" width="1" height="1" fill="#0000ff"/>
<rect x="0" y="504" width="1" height="1" fill="#0000ff"/>
<rect x="65" y="504" width="3" height="1" fill="#0000ff"/>
<rect x="82" y="504" width="1" height="1" fill="#0000ff"/>
<rect x="91" y="504" width="1" height="1" fill="#0000ff"/>
<rect x="109" y="504" width="5" height="1" fill="#0000ff"/>
<rect x="329" y="504" width="1" height="1" fill="#0000ff"/>
<rect x="464" y="504" width="1" height="1" fill="#0000ff"/>
<rect x="555" y="504" width="1" height="1" fill="#0000ff"/>
<rect x="68" y="505" width="4" height="1" fill="#0000ff"/>
<rect x="82" y="505" width="1" height="1" fill="#0000ff"/>
<rect x="92" y="505" width="2" height="1" fill="#0000ff"/>
<rect x="108" y="505" width="1" height="1" fill="#0000ff"/>
<rect x="114" y="505" width="1" height="1" fill="#0000ff"/>
<rect x="328" y="505" width="1" height="1" fill="#0000ff"/>
<rect x="465" y="505" width="6" height="1" fill="#0000ff"/>
<rect x="486" y="505" width="4" height="1" fill="#0000ff"/>
<rect x="555" y="505" width="1" height="1" fill="#0000ff"/>
<rect x="72" y="506" width="7" height="1" fill="#0000ff"/>
<rect x="81" y="506" width="1" height="1" fill="#0000ff"/>
<rect x="94" y="506" width="10" height="1" fill="#0000ff"/>
<rect x="106" y="506" width="2" height="1" fill="#0000ff"/>
<rect x="115" y="506" width="1" height="1" fill="#0000ff"/>
<rect x="327" y="506" width="1" height="1" fill="#0000ff"/>
<rect x="471" y="506" width="2" height="1" fill="#0000ff"/>
<rect x="482" y="506" width="4" height="1" fill="#0000ff"/>
<rect x="490" y="506" width="1" height="1" fill="#0000ff"/>
<rect x="554" y="506" width="1" height="1" fill="#0000ff"/>
<rect x="79" y="507" width="3" height="1" fill="#0000ff"/>
<rect x="104" y="507" width="2" height="1" fill="#0000ff"/>
<rect x="115" y="507" width="1" height="1" fill="#0000ff"/>
<rect x="267" y="507" width="4" height="1" fill="#0000ff"/>
<rect x="327" y="507" width="1" height="1" fill="#0000ff"/>
<rect x="473" y="507" width="9" height="1" fill="#0000ff"/>
<rect x="491" y="507" width="1" height="1" fill="#0000ff"/>
<rect x="553" y="507" width="1" height="1" fill="#0000ff"/>
<rect x="116" y="508" width="1" height="1" fill="#0000ff"/>
<rect x="264" y="508" width="3" height="1" fill="#0000ff"/>
<rect x="271" y="508" width="2" height="1" fill="#0000ff"/>
<rect x="326" y="508" width="1" height="1" fill="#0000ff"/>
<rect x="492" y="508" width="1" height="1" fill="#0000ff"/>
<rect x="552" y="508" width="1" height="1" fill="#0000ff"/>
<rect x="117" y="509" width="1" height="1" fill="#0000ff"/>
<rect x="262" y="509" width="2" height="1" fill="#0000ff"/>
<rect x="273" y="509" width="2" height="1" fill="#0000ff"/>
<rect x="326" y="509" width="1" height="1" fill="#0000ff"/>
<rect x="493" y="509" width="1" height="1" fill="#0000ff"/>
<rect x="552" y="509" width="1" height="1" fill="#0000ff"/>
<rect x="118" y="510" width="1" height="1" fill="#0000ff"/>
<rect x="261" y="510" width="1" height="1" fill="#0000ff"/>
<rect x="275" y="510" width="2" height="1" fill="#0000ff"/>
<rect x="325" y="510" width="1" height="1" fill="#0000ff"/>
<rect x="494" y="510" width="1" height="1" fill="#0000ff"/>
<rect x="551" y="510" width="1" height="1" fill="#0000ff"/>
<rect x="119" y="511" width="1" height="1" fill="#0000ff"/>
<rect x="260" y="511" width="1" height="1" fill="#0000ff"/>
<rect x="277" y="511" width="1" height="1" fill="#0000ff"/>
<rect x="325" y="511" width="1" height="1" fill="#0000ff"/>
<rect x="495" y="511" width="1" height="1" fill="#0000ff"/>
<rect x="550" y="511" width="1" height="1" fill="#0000ff"/>
<rect x="119" y="512" width="1" height="1" fill="#0000ff"/>
<rect x="259" y="512" width="1" height="1" fill="#0000ff"/>
<rect x="278" y="512" width="1" height="1" fill="#0000ff"/>
<rect x="324" y="512" width="1" height="1" fill="#0000ff"/>
<rect x="496" y="512" width="1" height="1" fill="#0000ff"/>
<rect x="549" y="512" width="1" height="1" fill="#0000ff"/>
<rect x="120" y="513" width="1" height="1" fill="#0000ff"/>
<rect x="258" y="513" width="1" height="1" fill="#0000ff"/>
<rect x="279" y="513" width="1" height="1" fill="#0000ff"/>
<rect x="324" y="513" width="1" height="1" fill="#0000ff"/>
<rect x="497" y="513" width="1" height="1" fill="#0000ff"/>
<rect x="549" y="513" width="1" height="1" fill="#0000ff"/>
<rect x="121" y="514" width="1" height="1" fill="#0000ff"/>
<rect x="257" y="514" width="1" height="1" fill="#0000ff"/>
<rect x="280" y="514" width="1" height="1" fill="#0000ff"/>
<rect x="323" y="514" width="1" height="1" fill="#0000ff"/>
<rect x="498" y="514" width="1" height="1" fill="#0000ff"/>
<rect x="548" y="514" width="1" height="1" fill="#0000ff"/>
<rect x="122" y="515" width="1" height="1" fill="#0000ff"/>
<rect x="255" y="515" width="2" height="1" fill="#0000ff"/>
<rect x="281" y="515" width="1" height="1" fill="#0000ff"/>
<rect x="322" y="515" width="1" height="1" fill="#0000ff"/>
<rect x="499" y="515" width="1" height="1" fill="#0000ff"/>
<rect x="547" y="515" width="1" height="1" fill="#0000ff"/>
<rect x="122" y="516" width="1" height="1" fill="#0000ff"/>
<rect x="254" y="516" width="1" height="1" fill="#0000ff"/>
<rect x="281" y="516" width="1" height="1" fill="#0000ff"/>
<rect x="321" y="516" width="1" height="1" fill="#0000ff"/>
<rect x="500" y="516" width="1" height="1" fill="#0000ff"/>
<rect x="547" y="516" width="1" height="1" fill="#0000ff"/>
<rect x="123" y="517" width="1" height="1" fill="#0000ff"/>
<rect x="169" y="517" width="1" height="1" fill="#0000ff"/>
<rect x="253" y="517" width="1" height="1" fill="#0000ff"/>
<rect x="282" y="517" width="1" height="1" fill="#0000ff"/>
<rect x="321" y="517" width="1" height="1" fill="#0000ff"/>
<rect x="501" y="517" width="1" height="1" fill="#0000ff"/>
<rect x="546" y="517" width="1" height="1" fill="#0000ff"/>
<rect x="124" y="518" width="1" height="1" fill="#0000ff"/>
<rect x="167" y="518" width="2" height="1" fill="#0000ff"/>
<rect x="170" y="518" width="1" height="1" fill="#0000ff"/>
<rect x="251" y="518" width="2" height="1" fill="#0000ff"/>
<rect x="282" y="518" width="1" height="1" fill="#0000ff"/>
<rect x="320" y="518" width="1" height="1" fill="#0000ff"/>
<rect x="502" y="518" width="1" height="1" fill="#0000ff"/>
<rect x="545" y="518" width="1" height="1" fill="#0000ff"/>
<rect x="125" y="519" width="1" height="1" fill="#0000ff"/>
<rect x="166" y="519" width="1" height="1" fill="#0000ff"/>
<rect x="171" y="519" width="1" height="1" fill="#0000ff"/>
<rect x="250" y="519" width="1" height="1" fill="#0000ff"/>
<rect x="283" y="519" width="1" height="1" fill="#0000ff"/>
<rect x="319" y="519" width="1" height="1" fill="#0000ff"/>
<rect x="503" y="519" width="1" height="1" fill="#0000ff"/>
<rect x="545" y="519" width="1" height="1" fill="#0000ff"/>
<rect x="126" y="520" width="2" height="1" fill="#0000ff"/>
<rect x="163" y="520" width="3" height="1" fill="#0000ff"/>
<rect x="172" y="520" width="1" height="1" fill="#0000ff"/>
<rect x="249" y="520" width="1" height="1" fill="#0000ff"/>
<rect x="283" y="520" width="1" height="1" fill="#0000ff"/>
<rect x="319" y="520" width="1" height="1" fill="#0000ff"/>
<rect x="504" y="520" width="1" height="1" fill="#0000ff"/>
<rect x="544" y="520" width="1" height="1" fill="#0000ff"/>
<rect x="128" y="521" width="1" height="1" fill="#0000ff"/>
<rect x="161" y="521" width="2" height="1" fill="#0000ff"/>
<rect x="173" y="521" width="1" height="1" fill="#0000ff"/>
<rect x="248" y="521" width="1" height="1" fill="#0000ff"/>
<rect x="283" y="521" width="1" height="1" fill="#0000ff"/>
<rect x="318" y="521" width="1" height="1" fill="#0000ff"/>
<rect x="505" y="521" width="1" height="1" fill="#0000ff"/>
<rect x="543" y="521" width="1" height="1" fill="#0000ff"/>
<rect x="129" y="522" width="1" height="1" fill="#0000ff"/>
<rect x="159" y="522" width="2" height="1" fill="#0000ff"/>
<rect x="173" y="522" width="1" height="1" fill="#0000ff"/>
<rect x="247" y="522" width="1" height="1" fill="#0000ff"/>
<rect x="284" y="522" width="1" height="1" fill="#0000ff"/>
<rect x="318" y="522" width="1" height="1" fill="#0000ff"/>
<rect x="506" y="522" width="1" height="1" fill="#0000ff"/>
<rect x="543" y="522" width="1" height="1" fill="#0000ff"/>
<rect x="130" y="523" width="1" height="1" fill="#0000ff"/>
<rect x="157" y="523" width="2" height="1" fill="#0000ff"/>
<rect x="174" y="523" width="1" height="1" fill="#0000ff"/>
<rect x="246" y="523" width="1" height="1" fill="#0000ff"/>
<rect x="284" y="523" width="1" height="1" fill="#0000ff"/>
<rect x="317" y="523" width="1" height="1" fill="#0000ff"/>
<rect x="507" y="523" width="2" height="1" fill="#0000ff"/>
<rect x="542" y="523" width="1" height="1" fill="#0000ff"/>
<rect x="131" y="524" width="1" height="1" fill="#0000ff"/>
<rect x="155" y="524" width="2" height="1" fill="#0000ff"/>
<rect x="175" y="524" width="1" height="1" fill="#0000ff"/>
<rect x="245" y="524" width="1" height="1" fill="#0000ff"/>
<rect x="285" y="524" width="1" height="1" fill="#0000ff"/>
<rect x="317" y="524" width="1" height="1" fill="#0000ff"/>
<rect x="509" y="524" width="2" height="1" fill="#0000ff"/>
<rect x="541" y="524" width="1" height="1" fill="#0000ff"/>
<rect x="132" y="525" width="1" height="1" fill="#0000ff"/>
<rect x="153" y="525" width="2" height="1" fill="#0000ff"/>
<rect x="175" y="525" width="1" height="1" fill="#0000ff"/>
<rect x="243" y="525" width="2" height="1" fill="#0000ff"/>
<rect x="286" y="525" width="1" height="1" fill="#0000ff"/>
<rect x="316" y="525" width="1" height="1" fill="#0000ff"/>
<rect x="511" y="525" width="1" height="1" fill="#0000ff"/>
<rect x="540" y="525" width="1" height="1" fill="#0000ff"/>
<rect x="133" y="526" width="1" height="1" fill="#0000ff"/>
<rect x="152" y="526" width="1" height="1" fill="#0000ff"/>
<rect x="176" y="526" width="1" height="1" fill="#0000ff"/>
<rect x="242" y="526" width="1" height="1" fill="#0000ff"/>
<rect x="286" y="526" width="1" height="1" fill="#0000ff"/>
<rect x="314" y="526" width="2" height="1" fill="#0000ff"/>
<rect x="512" y="526" width="2" height="1" fill="#0000ff"/>
<rect x="540" y="526" width="1" height="1" fill="#0000ff"/>
<rect x="134" y="527" width="2" height="1" fill="#0000ff"/>
<rect x="150" y="527" width="2" height="1" fill="#0000ff"/>
<rect x="176" y="527" width="1" height="1" fill="#0000ff"/>
<rect x="241" y="527" width="1" height="1" fill="#0000ff"/>
<rect x="287" y="527" width="1" height="1" fill="#0000ff"/>
<rect x="312" y="527" width="2" height="1" fill="#0000ff"/>
<rect x="514" y="527" width="1" height="1" fill="#0000ff"/>
<rect x="539" y="527" width="1" height="1" fill="#0000ff"/>
<rect x="136" y="528" width="14" height="1" fill="#0000ff"/>
<rect x="177" y="528" width="1" height="1" fill="#0000ff"/>
<rect x="239" y="528" width="2" height="1" fill="#0000ff"/>
<rect x="288" y="528" width="1" height="1" fill="#0000ff"/>
<rect x="310" y="528" width="2" height="1" fill="#0000ff"/>
<rect x="515" y="528" width="1" height="1" fill="#0000ff"/>
<rect x="538" y="528" width="1" height="1" fill="#0000ff"/>
<rect x="178" y="529" width="1" height="1" fill="#0000ff"/>
<rect x="238" y="529" width="1" height="1" fill="#0000ff"/>
<rect x="289" y="529" width="2" height="1" fill="#0000ff"/>
<rect x="308" y="529" width="2" height="1" fill="#0000ff"/>
<rect x="516" y="529" width="1" height="1" fill="#0000ff"/>
<rect x="537" y="529" width="1" height="1" fill="#0000ff"/>
<rect x="178" y="530" width="1" height="1" fill="#0000ff"/>
<rect x="237" y="530" width="1" height="1" fill="#0000ff"/>
<rect x="291" y="530" width="2" height="1" fill="#0000ff"/>
<rect x="305" y="530" width="3" height="1" fill="#0000ff"/>
<rect x="517" y="530" width="2" height="1" fill="#0000ff"/>
<rect x="537" y="530" width="1" height="1" fill="#0000ff"/>
<rect x="179" y="531" width="1" height="1" fill="#0000ff"/>
<rect x="236" y="531" width="1" height="1" fill="#0000ff"/>
<rect x="293" y="531" width="2" height="1" fill="#0000ff"/>
<rect x="304" y="531" width="1" height="1" fill="#0000ff"/>
<rect x="519" y="531" width="2" height="1" fill="#0000ff"/>
<rect x="536" y="531" width="1" height="1" fill="#0000ff"/>
<rect x="179" y="532" width="1" height="1" fill="#0000ff"/>
<rect x="235" y="532" width="1" height="1" fill="#0000ff"/>
<rect x="295" y="532" width="2" height="1" fill="#0000ff"/>
<rect x="302" y="532" width="2" height="1" fill="#0000ff"/>
<rect x="521" y="532" width="4" height="1" fill="#0000ff"/>
<rect x="535" y="532" width="1" height="1" fill="#0000ff"/>
<rect x="180" y="533" width="1" height="1" fill="#0000ff"/>
<rect x="234" y="533" width="1" height="1" fill="#0000ff"/>
<rect x="297" y="533" width="5" height="1" fill="#0000ff"/>
<rect x="525" y="533" width="2" height="1" fill="#0000ff"/>
<rect x="534" y="533" width="1" height="1" fill="#0000ff"/>
<rect x="180" y="534" width="1" height="1" fill="#0000ff"/>
<rect x="233" y="534" width="1" height="1" fill="#0000ff"/>
<rect x="527" y="534" width="2" height="1" fill="#0000ff"/>
<rect x="530" y="534" width="4" height="1" fill="#0000ff"/>
<rect x="181" y="535" width="1" height="1" fill="#0000ff"/>
<rect x="232" y="535" width="1" height="1" fill="#0000ff"/>
<rect x="529" y="535" width="1" height="1" fill="#0000ff"/>
<rect x="182" y="536" width="1" height="1" fill="#0000ff"/>
<rect x="231" y="536" width="1" height="1" fill="#0000ff"/>
<rect x="183" y="537" width="1" height="1" fill="#0000ff"/>
<rect x="230" y="537" width="1" height="1" fill="#0000ff"/>
<rect x="183" y="538" width="1" height="1" fill="#0000ff"/>
<rect x="217" y="538" width="5" height="1" fill="#0000ff"/>
<rect x="229" y="538" width="1" height="1" fill="#0000ff"/>
<rect x="184" y="539" width="1" height="1" fill="#0000ff"/>
<rect x="216" y="539" width="1" height="1" fill="#0000ff"/>
<rect x="222" y="539" width="2" height="1" fill="#0000ff"/>
<rect x="227" y="539" width="2" height="1" fill="#0000ff"/>
<rect x="185" y="540" width="1" height="1" fill="#0000ff"/>
<rect x="215" y="540" width="1" height="1" fill="#0000ff"/>
<rect x="224" y="540" width="3" height="1" fill="#0000ff"/>
<rect x="186" y="541" width="2" height="1" fill="#0000ff"/>
<rect x="213" y="541" width="2" height="1" fill="#0000ff"/>
<rect x="188" y="542" width="1" height="1" fill="#0000ff"/>
<rect x="211" y="542" width="2" height="1" fill="#0000ff"/>
<rect x="189" y="543" width="3" height="1" fill="#0000ff"/>
<rect x="208" y="543" width="3" height="1" fill="#0000ff"/>
<rect x="192" y="544" width="4" height="1" fill="#0000ff"/>
<rect x="206" y="544" width="2" height="1" fill="#0000ff"/>
<rect x="196" y="545" width="10" height="1" fill="#0000ff"/>
<defs><filter id="bl" x="-10%" y="-10%" width="120%" height="130%"><feGaussianBlur stdDeviation="2"/></filter></defs>
<rect x="16.5" y="23.5" width="291" height="94" rx="25" ry="25" fill="#fff" shape-rendering="geometricPrecision"/>
<rect x="21" y="28" width="291" height="94" rx="25" ry="25" fill="none" stroke="#000" stroke-opacity="0.15" stroke-width="3.5" filter="url(#bl)" shape-rendering="geometricPrecision"/>
<rect x="16.5" y="23.5" width="291" height="94" rx="25" ry="25" fill="none" stroke="#ff3030" stroke-width="1.2" shape-rendering="geometricPrecision"/></svg>
<div class="ax" style="left:750px;top:52px;">0.8640</div><div class="ax" style="left:750px;top:84px;">0.8520</div><div class="ax" style="left:750px;top:117px;">0.8400</div><div class="ax" style="left:750px;top:149px;">0.8280</div><div class="ax" style="left:750px;top:181px;">0.8160</div><div class="ax" style="left:750px;top:213px;">0.8040</div><div class="ax" style="left:750px;top:246px;">0.7920</div><div class="ax" style="left:750px;top:278px;">0.7800</div><div class="ax" style="left:750px;top:310px;">0.7680</div><div class="ax" style="left:750px;top:342px;">0.7560</div><div class="ax" style="left:750px;top:375px;">0.7440</div><div class="ax" style="left:750px;top:407px;">0.7320</div><div class="ax" style="left:750px;top:20px;">0.8760</div><div class="pl"></div><div class="ax" style="left:750px;top:16px;">0.8769</div><div class="ax" style="left:748px;top:454px;">0.0030</div><div class="ax" style="left:748px;top:472px;">0.0020</div><div class="ax" style="left:748px;top:489px;">0.0010</div><div class="ax" style="left:748px;top:507px;">0.0000</div><div class="ax" style="left:749px;top:524px;">-0.0010</div><div class="ax" style="left:749px;top:542px;">-0.0020</div><div class="ax tm" style="left:9px;top:591px;">12<span class="cj">月</span></div><div class="ax tm" style="left:93px;top:591px;">01<span class="cj">月</span></div><div class="ax tm" style="left:185px;top:591px;">02<span class="cj">月</span></div><div class="ax tm" style="left:265px;top:591px;">03<span class="cj">月</span></div><div class="ax tm" style="left:353px;top:591px;">04<span class="cj">月</span></div><div class="ax tm" style="left:437px;top:591px;">05<span class="cj">月</span></div><div class="ax tm" style="left:529px;top:591px;">06<span class="cj">月</span></div><div class="ax tm" style="left:613px;top:591px;">07<span class="cj">月</span></div><div class="note" style="left:26px;top:38px;">澳元天图：目前向上目标<span class="dg">8780</span>，下支持</div><div class="note" style="left:26px;top:57px;"><span class="dg">8700</span>，总体升势没有结束。</div><div class="note" style="left:26px;top:95px;">参考交易：目前观望</div><div class="note sm" style="left:279px;top:408px;">山姆</div>
</body></html>
